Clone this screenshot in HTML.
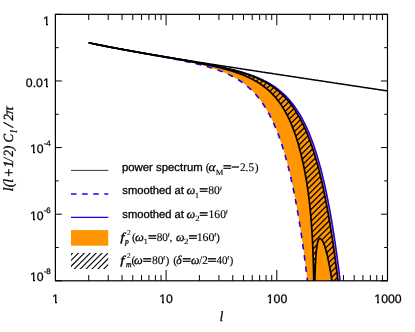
<!DOCTYPE html>
<html><head><meta charset="utf-8"><title>plot</title>
<style>
html,body{margin:0;padding:0;background:#fff;}
body{width:415px;height:332px;position:relative;overflow:hidden;font-family:"Liberation Sans",sans-serif;color:#000;text-rendering:geometricPrecision;}
.t{position:absolute;white-space:nowrap;font-size:12.3px;line-height:12px;-webkit-text-stroke:0.25px #000;}
.w{position:absolute;background:#fff;}
.yl{text-align:right;width:40px;margin-left:0.3px}
.xl{text-align:center;width:40px;}
.lg{position:absolute;white-space:nowrap;font-size:11.3px;line-height:14px;left:122px;}
.m{font-family:"Liberation Serif",serif;font-style:italic;font-size:13px;}
.r{font-family:"Liberation Serif",serif;font-style:italic;font-size:13px;}
.u{font-family:"Liberation Serif",serif;font-style:normal;}
sup,sub{font-size:8px;line-height:0;}
.sup{font-size:8px;position:relative;top:-7px;}
.sub{font-size:8px;position:relative;top:3px;}
</style></head><body><div id="wrap" style="position:absolute;left:0;top:0;width:415px;height:332px;opacity:0.999;will-change:opacity;">
<svg width="415" height="332" viewBox="0 0 415 332" style="position:absolute;left:0;top:0">
<defs><clipPath id="plot"><rect x="55.40" y="14.35" width="332.10" height="266.45"/></clipPath>
<clipPath id="hreg"><path d="M88.72,42.79 L89.88,43.03 L91.03,43.27 L92.18,43.51 L93.34,43.75 L94.49,43.99 L95.65,44.22 L96.80,44.46 L97.95,44.69 L99.11,44.92 L100.26,45.16 L101.41,45.39 L102.57,45.62 L103.72,45.84 L104.87,46.07 L106.03,46.30 L107.18,46.52 L108.33,46.75 L109.49,46.97 L110.64,47.19 L111.80,47.41 L112.95,47.63 L114.10,47.85 L115.26,48.07 L116.41,48.29 L117.56,48.51 L118.72,48.72 L119.87,48.94 L121.02,49.15 L122.18,49.37 L123.33,49.58 L124.48,49.79 L125.64,50.00 L126.79,50.21 L127.95,50.42 L129.10,50.63 L130.25,50.84 L131.41,51.05 L132.56,51.26 L133.71,51.46 L134.87,51.67 L136.02,51.87 L137.17,52.08 L138.33,52.28 L139.48,52.49 L140.63,52.69 L141.79,52.90 L142.94,53.10 L144.10,53.30 L145.25,53.50 L146.40,53.70 L147.56,53.90 L148.71,54.10 L149.86,54.30 L151.02,54.50 L152.17,54.70 L153.32,54.90 L154.48,55.10 L155.63,55.30 L156.78,55.50 L157.94,55.70 L159.09,55.90 L160.25,56.09 L161.40,56.29 L162.55,56.49 L163.71,56.69 L164.86,56.89 L166.01,57.08 L167.17,57.28 L168.32,57.48 L169.47,57.68 L170.63,57.87 L171.78,58.07 L172.94,58.27 L174.09,58.47 L175.24,58.66 L176.40,58.86 L177.55,59.06 L178.70,59.26 L179.86,59.46 L181.01,59.66 L182.16,59.86 L183.32,60.06 L184.47,60.26 L185.62,60.46 L186.78,60.66 L187.93,60.86 L189.09,61.07 L190.24,61.27 L191.39,61.48 L192.55,61.68 L193.70,61.89 L194.85,62.09 L196.01,62.30 L197.16,62.51 L198.31,62.72 L199.47,62.93 L200.62,63.14 L201.77,63.36 L202.93,63.57 L204.08,63.79 L205.24,64.01 L206.39,64.23 L207.54,64.45 L208.70,64.67 L209.85,64.90 L211.00,65.13 L212.16,65.36 L213.31,65.59 L214.46,65.82 L215.62,66.06 L216.77,66.30 L217.92,66.54 L219.08,66.78 L220.23,67.03 L221.39,67.28 L222.54,67.54 L223.69,67.80 L224.85,68.06 L226.00,68.33 L227.15,68.60 L228.31,68.87 L229.46,69.15 L230.61,69.44 L231.77,69.73 L232.92,70.02 L234.07,70.32 L235.23,70.63 L236.38,70.94 L237.54,71.26 L238.69,71.59 L239.84,71.92 L241.00,72.26 L242.15,72.61 L243.30,72.97 L244.46,73.33 L245.61,73.71 L246.76,74.09 L247.92,74.49 L249.07,74.89 L250.22,75.31 L251.38,75.74 L252.53,76.18 L253.69,76.64 L254.84,77.10 L255.99,77.58 L257.15,78.08 L258.30,78.59 L259.45,79.12 L260.61,79.67 L261.76,80.23 L262.91,80.82 L264.07,81.42 L265.22,82.05 L266.37,82.69 L267.53,83.36 L268.68,84.06 L269.84,84.78 L270.99,85.52 L272.14,86.30 L273.30,87.10 L274.45,87.93 L275.60,88.80 L276.76,89.70 L277.91,90.64 L279.06,91.61 L280.22,92.62 L281.37,93.68 L282.52,94.77 L283.68,95.92 L284.83,97.11 L285.99,98.35 L287.14,99.64 L288.29,100.98 L289.45,102.39 L290.60,103.85 L291.75,105.38 L292.91,106.98 L294.06,108.64 L295.21,110.38 L296.37,112.19 L297.52,114.09 L298.67,116.07 L299.83,118.14 L300.98,120.30 L302.14,122.56 L303.29,124.92 L304.44,127.39 L305.60,129.97 L306.75,132.67 L307.90,135.49 L309.06,138.45 L310.21,141.54 L311.36,144.77 L312.52,148.16 L313.67,151.70 L314.82,155.41 L315.98,159.29 L317.13,163.36 L318.29,167.61 L319.44,172.07 L320.59,176.73 L321.75,181.62 L322.90,186.74 L324.05,192.10 L325.21,197.72 L326.36,203.60 L327.51,209.77 L328.67,216.23 L329.82,223.00 L330.97,230.09 L332.13,237.52 L333.28,245.31 L334.44,253.48 L335.59,262.04 L336.74,271.00 L337.90,280.41 L339.05,290.26 L340.20,300.59 L341.36,311.42 L342.51,322.78 L343.66,334.68 L344.82,347.16 L345.97,360.25 L347.12,373.97 L348.28,388.35 L349.43,403.44 L350.59,414.02 L351.74,414.02 L352.89,414.02 L354.05,414.02 L355.20,414.02 L356.35,414.02 L357.51,414.02 L358.66,414.02 L359.81,414.02 L360.97,414.02 L362.12,414.02 L363.27,414.02 L364.43,414.02 L365.58,414.02 L366.74,414.02 L367.89,414.02 L369.04,414.02 L370.20,414.02 L371.35,414.02 L372.50,414.02 L373.66,414.02 L374.81,414.02 L375.96,414.02 L377.12,414.02 L378.27,414.02 L379.42,414.02 L380.58,414.02 L381.73,414.02 L382.89,414.02 L384.04,414.02 L385.19,414.02 L386.35,414.02 L387.50,414.02 L387.50,414.02 L387.17,414.02 L386.84,414.02 L386.50,414.02 L386.17,414.02 L385.84,414.02 L385.51,414.02 L385.17,414.02 L384.84,414.02 L384.51,414.02 L384.18,414.02 L383.84,414.02 L383.51,414.02 L383.18,414.02 L382.85,414.02 L382.51,414.02 L382.18,414.02 L381.85,414.02 L381.52,414.02 L381.19,414.02 L380.85,414.02 L380.52,414.02 L380.19,414.02 L379.86,414.02 L379.52,414.02 L379.19,414.02 L378.86,414.02 L378.53,414.02 L378.19,414.02 L377.86,414.02 L377.53,414.02 L377.20,414.02 L376.87,414.02 L376.53,414.02 L376.20,414.02 L375.87,414.02 L375.54,414.02 L375.20,414.02 L374.87,414.02 L374.54,414.02 L374.21,414.02 L373.87,414.02 L373.54,414.02 L373.21,414.02 L372.88,414.02 L372.54,414.02 L372.21,414.02 L371.88,414.02 L371.55,414.02 L371.22,414.02 L370.88,414.02 L370.55,414.02 L370.22,414.02 L369.89,414.02 L369.55,414.02 L369.22,414.02 L368.89,414.02 L368.56,414.02 L368.22,414.02 L367.89,414.02 L367.56,414.02 L367.23,414.02 L366.89,414.02 L366.56,414.02 L366.23,414.02 L365.90,414.02 L365.57,414.02 L365.23,414.02 L364.90,414.02 L364.57,414.02 L364.24,414.02 L363.90,414.02 L363.57,414.02 L363.24,414.02 L362.91,414.02 L362.57,414.02 L362.24,414.02 L361.91,414.02 L361.58,414.02 L361.24,414.02 L360.91,414.02 L360.58,414.02 L360.25,414.02 L359.92,414.02 L359.58,414.02 L359.25,414.02 L358.92,414.02 L358.59,414.02 L358.25,414.02 L357.92,414.02 L357.59,414.02 L357.26,414.02 L356.92,414.02 L356.59,414.02 L356.26,414.02 L355.93,414.02 L355.60,414.02 L355.26,414.02 L354.93,414.02 L354.60,414.02 L354.27,414.02 L353.93,414.02 L353.60,414.02 L353.27,414.02 L352.94,414.02 L352.60,414.02 L352.27,414.02 L351.94,414.02 L351.61,414.02 L351.27,414.02 L350.94,414.02 L350.61,414.02 L350.28,414.02 L349.95,414.02 L349.61,414.02 L349.28,414.02 L348.95,414.02 L348.62,414.02 L348.28,414.02 L347.95,414.02 L347.62,414.02 L347.29,414.02 L346.95,414.02 L346.62,414.02 L346.29,414.02 L345.96,414.02 L345.62,410.59 L345.29,406.20 L344.96,401.89 L344.63,397.64 L344.30,393.47 L343.96,389.36 L343.63,385.31 L343.30,381.34 L342.97,377.43 L342.63,373.58 L342.30,369.80 L341.97,366.08 L341.64,362.43 L341.30,358.83 L340.97,355.30 L340.64,351.83 L340.31,348.42 L339.98,345.06 L339.64,341.77 L339.31,338.53 L338.98,335.35 L338.65,332.22 L338.31,329.16 L337.98,326.14 L337.65,323.19 L337.32,320.28 L336.98,317.43 L336.65,314.64 L336.32,311.90 L335.99,309.20 L335.65,306.57 L335.32,303.98 L334.99,301.44 L334.66,298.96 L334.33,296.52 L333.99,294.14 L333.66,291.80 L333.33,289.52 L333.00,287.28 L332.66,285.10 L332.33,282.96 L332.00,280.87 L331.67,278.74 L331.33,276.67 L331.00,274.65 L330.67,272.68 L330.34,270.76 L330.00,268.89 L329.67,267.07 L329.34,265.30 L329.01,263.59 L328.68,261.92 L328.34,260.31 L328.01,258.74 L327.68,257.23 L327.35,255.77 L327.01,254.36 L326.68,253.01 L326.35,251.71 L326.02,250.46 L325.68,249.27 L325.35,248.13 L325.02,247.05 L324.69,246.03 L324.35,245.06 L324.02,244.16 L323.69,243.32 L323.36,242.54 L323.03,241.83 L322.69,241.19 L322.36,240.63 L322.03,240.13 L321.70,239.72 L321.36,239.39 L321.03,239.15 L320.70,238.89 L320.37,238.67 L320.03,238.57 L319.70,238.59 L319.37,238.76 L319.04,239.08 L318.71,239.56 L318.37,240.24 L318.04,241.14 L317.71,242.29 L317.38,243.74 L317.04,245.55 L316.71,247.80 L316.38,250.61 L316.05,254.18 L315.71,258.80 L315.38,265.01 L315.05,273.94 L314.72,288.66 L314.38,326.23 L314.05,307.52 L313.72,279.25 L313.39,264.32 L313.06,253.87 L312.72,245.70 L312.39,238.92 L312.06,233.09 L311.73,227.96 L311.39,223.37 L311.06,219.19 L310.73,215.34 L310.40,211.76 L310.06,208.41 L309.73,205.26 L309.40,202.29 L309.07,199.46 L308.73,196.76 L308.40,194.19 L308.07,191.72 L307.74,189.35 L307.41,187.07 L307.07,184.88 L306.74,182.76 L306.41,180.70 L306.08,178.72 L305.74,176.79 L305.41,174.92 L305.08,173.11 L304.75,171.34 L304.41,169.63 L304.08,167.95 L303.75,166.32 L303.42,164.74 L303.08,163.19 L302.75,161.67 L302.42,160.20 L302.09,158.75 L301.76,157.34 L301.42,155.96 L301.09,154.61 L300.76,153.29 L300.43,152.00 L300.09,150.73 L299.76,149.48 L299.43,148.23 L299.10,147.01 L298.76,145.81 L298.43,144.64 L298.10,143.49 L297.77,142.36 L297.44,141.25 L297.10,140.17 L296.77,139.10 L296.44,138.06 L296.11,137.03 L295.77,136.02 L295.44,135.03 L295.11,134.06 L294.78,133.11 L294.44,132.17 L294.11,131.25 L293.78,130.34 L293.45,129.45 L293.11,128.58 L292.78,127.72 L292.45,126.88 L292.12,126.05 L291.79,125.23 L291.45,124.43 L291.12,123.64 L290.79,122.86 L290.46,122.09 L290.12,121.34 L289.79,120.60 L289.46,119.87 L289.13,119.16 L288.79,118.45 L288.46,117.76 L288.13,117.08 L287.80,116.40 L287.46,115.74 L287.13,115.09 L286.80,114.45 L286.47,113.82 L286.14,113.19 L285.80,112.58 L285.47,111.98 L285.14,111.38 L284.81,110.80 L284.47,110.22 L284.14,109.65 L283.81,109.09 L283.48,108.54 L283.14,108.00 L282.81,107.46 L282.48,106.93 L282.15,106.41 L281.82,105.90 L281.48,105.39 L281.15,104.89 L280.82,104.40 L280.49,103.92 L280.15,103.44 L279.82,102.97 L279.49,102.51 L279.16,102.05 L278.82,101.60 L278.49,101.15 L278.16,100.71 L277.83,100.28 L277.49,99.86 L277.16,99.44 L276.83,99.03 L276.50,98.63 L276.17,98.23 L275.83,97.83 L275.50,97.44 L275.17,97.06 L274.84,96.68 L274.50,96.30 L274.17,95.93 L273.84,95.57 L273.51,95.21 L273.17,94.85 L272.84,94.50 L272.51,94.16 L272.18,93.81 L271.84,93.48 L271.51,93.14 L271.18,92.81 L270.85,92.49 L270.52,92.16 L270.18,91.85 L269.85,91.53 L269.52,91.22 L269.19,90.92 L268.85,90.62 L268.52,90.32 L268.19,90.03 L267.86,89.73 L267.52,89.45 L267.19,89.16 L266.86,88.88 L266.53,88.60 L266.19,88.33 L265.86,88.06 L265.53,87.79 L265.20,87.53 L264.87,87.27 L264.53,87.01 L264.20,86.75 L263.87,86.50 L263.54,86.25 L263.20,86.00 L262.87,85.76 L262.54,85.52 L262.21,85.28 L261.87,85.04 L261.54,84.81 L261.21,84.58 L260.88,84.35 L260.55,84.12 L260.21,83.90 L259.88,83.68 L259.55,83.46 L259.22,83.24 L258.88,83.03 L258.55,82.82 L258.22,82.61 L257.89,82.40 L257.55,82.20 L257.22,82.00 L256.89,81.80 L256.56,81.60 L256.22,81.40 L255.89,81.21 L255.56,81.02 L255.23,80.83 L254.90,80.64 L254.56,80.45 L254.23,80.27 L253.90,80.08 L253.57,79.90 L253.23,79.72 L252.90,79.55 L252.57,79.37 L252.24,79.20 L251.90,79.03 L251.57,78.86 L251.24,78.69 L250.91,78.52 L250.57,78.36 L250.24,78.19 L249.91,78.03 L249.58,77.87 L249.25,77.71 L248.91,77.55 L248.58,77.40 L248.25,77.24 L247.92,77.09 L247.58,76.94 L247.25,76.79 L246.92,76.64 L246.59,76.49 L246.25,76.35 L245.92,76.20 L245.59,76.06 L245.26,75.92 L244.93,75.78 L244.59,75.64 L244.26,75.50 L243.93,75.36 L243.60,75.22 L243.26,75.09 L242.93,74.96 L242.60,74.82 L242.27,74.69 L241.93,74.56 L241.60,74.43 L241.27,74.30 L240.94,74.18 L240.60,74.05 L240.27,73.93 L239.94,73.80 L239.61,73.68 L239.28,73.56 L238.94,73.44 L238.61,73.32 L238.28,73.20 L237.95,73.08 L237.61,72.96 L237.28,72.85 L236.95,72.73 L236.62,72.62 L236.28,72.50 L235.95,72.39 L235.62,72.28 L235.29,72.17 L234.95,72.06 L234.62,71.95 L234.29,71.84 L233.96,71.73 L233.63,71.62 L233.29,71.52 L232.96,71.41 L232.63,71.31 L232.30,71.20 L231.96,71.10 L231.63,71.00 L231.30,70.89 L230.97,70.79 L230.63,70.69 L230.30,70.59 L229.97,70.49 L229.64,70.40 L229.30,70.30 L228.97,70.20 L228.64,70.10 L228.31,70.01 L227.98,69.91 L227.64,69.82 L227.31,69.72 L226.98,69.63 L226.65,69.54 L226.31,69.44 L225.98,69.35 L225.65,69.26 L225.32,69.17 L224.98,69.08 L224.65,68.99 L224.32,68.90 L223.99,68.81 L223.66,68.72 L223.32,68.64 L222.99,68.55 L222.66,68.46 L222.33,68.37 L221.99,68.29 L221.66,68.20 L221.33,68.12 L221.00,68.03 L220.66,67.95 L220.33,67.87 L220.00,67.78 L219.67,67.70 L219.33,67.62 L219.00,67.54 L218.67,67.46 L218.34,67.37 L218.01,67.29 L217.67,67.21 L217.34,67.13 L217.01,67.05 L216.68,66.97 L216.34,66.90 L216.01,66.82 L215.68,66.74 L215.35,66.66 L215.01,66.58 L214.68,66.51 L214.35,66.43 L214.02,66.35 L213.68,66.28 L213.35,66.20 L213.02,66.13 L212.69,66.05 L212.36,65.98 L212.02,65.90 L211.69,65.83 L211.36,65.75 L211.03,65.68 L210.69,65.61 L210.36,65.53 L210.03,65.46 L209.70,65.39 L209.36,65.32 L209.03,65.24 L208.70,65.17 L208.37,65.10 L208.04,65.03 L207.70,64.96 L207.37,64.89 L207.04,64.82 L206.71,64.75 L206.37,64.68 L206.04,64.61 L205.71,64.54 L205.38,64.47 L205.04,64.40 L204.71,64.33 L204.38,64.26 L204.05,64.19 L203.71,64.13 L203.38,64.06 L203.05,63.99 L202.72,63.92 L202.39,63.86 L202.05,63.79 L201.72,63.72 L201.39,63.65 L201.06,63.59 L200.72,63.52 L200.39,63.46 L200.06,63.39 L199.73,63.32 L199.39,63.26 L199.06,63.19 L198.73,63.13 L198.40,63.06 L198.06,63.00 L197.73,62.93 L197.40,62.87 L197.07,62.80 L196.74,62.74 L196.40,62.67 L196.07,62.61 L195.74,62.54 L195.41,62.48 L195.07,62.42 L194.74,62.35 L194.41,62.29 L194.08,62.23 L193.74,62.16 L193.41,62.10 L193.08,62.04 L192.75,61.97 L192.41,61.91 L192.08,61.85 L191.75,61.79 L191.42,61.72 L191.09,61.66 L190.75,61.60 L190.42,61.54 L190.09,61.47 L189.76,61.41 L189.42,61.35 L189.09,61.29 L188.76,61.23 L188.43,61.17 L188.09,61.10 L187.76,61.04 L187.43,60.98 L187.10,60.92 L186.77,60.86 L186.43,60.80 L186.10,60.74 L185.77,60.68 L185.44,60.62 L185.10,60.56 L184.77,60.50 L184.44,60.44 L184.11,60.37 L183.77,60.31 L183.44,60.25 L183.11,60.19 L182.78,60.13 L182.44,60.07 L182.11,60.01 L181.78,59.95 L181.45,59.89 L181.12,59.83 L180.78,59.78 L180.45,59.72 L180.12,59.66 L179.79,59.60 L179.45,59.54 L179.12,59.48 L178.79,59.42 L178.46,59.36 L178.12,59.30 L177.79,59.24 L177.46,59.18 L177.13,59.12 L176.79,59.06 L176.46,59.00 L176.13,58.95 L175.80,58.89 L175.47,58.83 L175.13,58.77 L174.80,58.71 L174.47,58.65 L174.14,58.59 L173.80,58.53 L173.47,58.48 L173.14,58.42 L172.81,58.36 L172.47,58.30 L172.14,58.24 L171.81,58.18 L171.48,58.12 L171.14,58.07 L170.81,58.01 L170.48,57.95 L170.15,57.89 L169.82,57.83 L169.48,57.77 L169.15,57.72 L168.82,57.66 L168.49,57.60 L168.15,57.54 L167.82,57.48 L167.49,57.42 L167.16,57.37 L166.82,57.31 L166.49,57.25 L166.16,57.19 L165.83,57.13 L165.50,57.08 L165.16,57.02 L164.83,56.96 L164.50,56.90 L164.17,56.84 L163.83,56.79 L163.50,56.73 L163.17,56.67 L162.84,56.61 L162.50,56.55 L162.17,56.50 L161.84,56.44 L161.51,56.38 L161.17,56.32 L160.84,56.26 L160.51,56.21 L160.18,56.15 L159.85,56.09 L159.51,56.03 L159.18,55.97 L158.85,55.92 L158.52,55.86 L158.18,55.80 L157.85,55.74 L157.52,55.69 L157.19,55.63 L156.85,55.57 L156.52,55.51 L156.19,55.45 L155.86,55.40 L155.52,55.34 L155.19,55.28 L154.86,55.22 L154.53,55.16 L154.20,55.11 L153.86,55.05 L153.53,54.99 L153.20,54.93 L152.87,54.87 L152.53,54.81 L152.20,54.76 L151.87,54.70 L151.54,54.64 L151.20,54.58 L150.87,54.52 L150.54,54.47 L150.21,54.41 L149.88,54.35 L149.54,54.29 L149.21,54.23 L148.88,54.17 L148.55,54.12 L148.21,54.06 L147.88,54.00 L147.55,53.94 L147.22,53.88 L146.88,53.82 L146.55,53.77 L146.22,53.71 L145.89,53.65 L145.55,53.59 L145.22,53.53 L144.89,53.47 L144.56,53.42 L144.23,53.36 L143.89,53.30 L143.56,53.24 L143.23,53.18 L142.90,53.12 L142.56,53.06 L142.23,53.00 L141.90,52.95 L141.57,52.89 L141.23,52.83 L140.90,52.77 L140.57,52.71 L140.24,52.65 L139.90,52.59 L139.57,52.53 L139.24,52.47 L138.91,52.41 L138.58,52.36 L138.24,52.30 L137.91,52.24 L137.58,52.18 L137.25,52.12 L136.91,52.06 L136.58,52.00 L136.25,51.94 L135.92,51.88 L135.58,51.82 L135.25,51.76 L134.92,51.70 L134.59,51.64 L134.25,51.58 L133.92,51.52 L133.59,51.46 L133.26,51.40 L132.93,51.34 L132.59,51.28 L132.26,51.22 L131.93,51.16 L131.60,51.10 L131.26,51.04 L130.93,50.98 L130.60,50.92 L130.27,50.86 L129.93,50.80 L129.60,50.74 L129.27,50.68 L128.94,50.62 L128.61,50.56 L128.27,50.50 L127.94,50.44 L127.61,50.38 L127.28,50.32 L126.94,50.26 L126.61,50.20 L126.28,50.14 L125.95,50.07 L125.61,50.01 L125.28,49.95 L124.95,49.89 L124.62,49.83 L124.28,49.77 L123.95,49.71 L123.62,49.65 L123.29,49.59 L122.96,49.52 L122.62,49.46 L122.29,49.40 L121.96,49.34 L121.63,49.28 L121.29,49.22 L120.96,49.15 L120.63,49.09 L120.30,49.03 L119.96,48.97 L119.63,48.91 L119.30,48.84 L118.97,48.78 L118.63,48.72 L118.30,48.66 L117.97,48.59 L117.64,48.53 L117.31,48.47 L116.97,48.41 L116.64,48.34 L116.31,48.28 L115.98,48.22 L115.64,48.16 L115.31,48.09 L114.98,48.03 L114.65,47.97 L114.31,47.90 L113.98,47.84 L113.65,47.78 L113.32,47.71 L112.99,47.65 L112.65,47.59 L112.32,47.52 L111.99,47.46 L111.66,47.40 L111.32,47.33 L110.99,47.27 L110.66,47.20 L110.33,47.14 L109.99,47.08 L109.66,47.01 L109.33,46.95 L109.00,46.88 L108.66,46.82 L108.33,46.75 L108.00,46.69 L107.67,46.63 L107.34,46.56 L107.00,46.50 L106.67,46.43 L106.34,46.37 L106.01,46.30 L105.67,46.24 L105.34,46.17 L105.01,46.11 L104.68,46.04 L104.34,45.97 L104.01,45.91 L103.68,45.84 L103.35,45.78 L103.01,45.71 L102.68,45.65 L102.35,45.58 L102.02,45.51 L101.69,45.45 L101.35,45.38 L101.02,45.31 L100.69,45.25 L100.36,45.18 L100.02,45.11 L99.69,45.05 L99.36,44.98 L99.03,44.91 L98.69,44.85 L98.36,44.78 L98.03,44.71 L97.70,44.65 L97.36,44.58 L97.03,44.51 L96.70,44.44 L96.37,44.38 L96.04,44.31 L95.70,44.24 L95.37,44.17 L95.04,44.10 L94.71,44.04 L94.37,43.97 L94.04,43.90 L93.71,43.83 L93.38,43.76 L93.04,43.69 L92.71,43.62 L92.38,43.55 L92.05,43.49 L91.72,43.42 L91.38,43.35 L91.05,43.28 L90.72,43.21 L90.39,43.14 L90.05,43.07 L89.72,43.00 L89.39,42.93 L89.06,42.86 L88.72,42.79Z"/></clipPath>
<clipPath id="lbox"><rect x="71" y="253.1" width="37.2" height="15.8"/></clipPath></defs>
<line x1="88.72" y1="280.80" x2="88.72" y2="275.10" stroke="#000" stroke-width="1.00"/>
<line x1="88.72" y1="14.35" x2="88.72" y2="20.05" stroke="#000" stroke-width="1.00"/>
<line x1="108.22" y1="280.80" x2="108.22" y2="275.10" stroke="#000" stroke-width="1.00"/>
<line x1="108.22" y1="14.35" x2="108.22" y2="20.05" stroke="#000" stroke-width="1.00"/>
<line x1="122.05" y1="280.80" x2="122.05" y2="275.10" stroke="#000" stroke-width="1.00"/>
<line x1="122.05" y1="14.35" x2="122.05" y2="20.05" stroke="#000" stroke-width="1.00"/>
<line x1="132.78" y1="280.80" x2="132.78" y2="275.10" stroke="#000" stroke-width="1.00"/>
<line x1="132.78" y1="14.35" x2="132.78" y2="20.05" stroke="#000" stroke-width="1.00"/>
<line x1="141.54" y1="280.80" x2="141.54" y2="275.10" stroke="#000" stroke-width="1.00"/>
<line x1="141.54" y1="14.35" x2="141.54" y2="20.05" stroke="#000" stroke-width="1.00"/>
<line x1="148.95" y1="280.80" x2="148.95" y2="275.10" stroke="#000" stroke-width="1.00"/>
<line x1="148.95" y1="14.35" x2="148.95" y2="20.05" stroke="#000" stroke-width="1.00"/>
<line x1="155.37" y1="280.80" x2="155.37" y2="275.10" stroke="#000" stroke-width="1.00"/>
<line x1="155.37" y1="14.35" x2="155.37" y2="20.05" stroke="#000" stroke-width="1.00"/>
<line x1="161.03" y1="280.80" x2="161.03" y2="275.10" stroke="#000" stroke-width="1.00"/>
<line x1="161.03" y1="14.35" x2="161.03" y2="20.05" stroke="#000" stroke-width="1.00"/>
<line x1="166.10" y1="280.80" x2="166.10" y2="269.90" stroke="#000" stroke-width="1.00"/>
<line x1="166.10" y1="14.35" x2="166.10" y2="25.25" stroke="#000" stroke-width="1.00"/>
<line x1="199.42" y1="280.80" x2="199.42" y2="275.10" stroke="#000" stroke-width="1.00"/>
<line x1="199.42" y1="14.35" x2="199.42" y2="20.05" stroke="#000" stroke-width="1.00"/>
<line x1="218.92" y1="280.80" x2="218.92" y2="275.10" stroke="#000" stroke-width="1.00"/>
<line x1="218.92" y1="14.35" x2="218.92" y2="20.05" stroke="#000" stroke-width="1.00"/>
<line x1="232.75" y1="280.80" x2="232.75" y2="275.10" stroke="#000" stroke-width="1.00"/>
<line x1="232.75" y1="14.35" x2="232.75" y2="20.05" stroke="#000" stroke-width="1.00"/>
<line x1="243.48" y1="280.80" x2="243.48" y2="275.10" stroke="#000" stroke-width="1.00"/>
<line x1="243.48" y1="14.35" x2="243.48" y2="20.05" stroke="#000" stroke-width="1.00"/>
<line x1="252.24" y1="280.80" x2="252.24" y2="275.10" stroke="#000" stroke-width="1.00"/>
<line x1="252.24" y1="14.35" x2="252.24" y2="20.05" stroke="#000" stroke-width="1.00"/>
<line x1="259.65" y1="280.80" x2="259.65" y2="275.10" stroke="#000" stroke-width="1.00"/>
<line x1="259.65" y1="14.35" x2="259.65" y2="20.05" stroke="#000" stroke-width="1.00"/>
<line x1="266.07" y1="280.80" x2="266.07" y2="275.10" stroke="#000" stroke-width="1.00"/>
<line x1="266.07" y1="14.35" x2="266.07" y2="20.05" stroke="#000" stroke-width="1.00"/>
<line x1="271.73" y1="280.80" x2="271.73" y2="275.10" stroke="#000" stroke-width="1.00"/>
<line x1="271.73" y1="14.35" x2="271.73" y2="20.05" stroke="#000" stroke-width="1.00"/>
<line x1="276.80" y1="280.80" x2="276.80" y2="269.90" stroke="#000" stroke-width="1.00"/>
<line x1="276.80" y1="14.35" x2="276.80" y2="25.25" stroke="#000" stroke-width="1.00"/>
<line x1="310.12" y1="280.80" x2="310.12" y2="275.10" stroke="#000" stroke-width="1.00"/>
<line x1="310.12" y1="14.35" x2="310.12" y2="20.05" stroke="#000" stroke-width="1.00"/>
<line x1="329.62" y1="280.80" x2="329.62" y2="275.10" stroke="#000" stroke-width="1.00"/>
<line x1="329.62" y1="14.35" x2="329.62" y2="20.05" stroke="#000" stroke-width="1.00"/>
<line x1="343.45" y1="280.80" x2="343.45" y2="275.10" stroke="#000" stroke-width="1.00"/>
<line x1="343.45" y1="14.35" x2="343.45" y2="20.05" stroke="#000" stroke-width="1.00"/>
<line x1="354.18" y1="280.80" x2="354.18" y2="275.10" stroke="#000" stroke-width="1.00"/>
<line x1="354.18" y1="14.35" x2="354.18" y2="20.05" stroke="#000" stroke-width="1.00"/>
<line x1="362.94" y1="280.80" x2="362.94" y2="275.10" stroke="#000" stroke-width="1.00"/>
<line x1="362.94" y1="14.35" x2="362.94" y2="20.05" stroke="#000" stroke-width="1.00"/>
<line x1="370.35" y1="280.80" x2="370.35" y2="275.10" stroke="#000" stroke-width="1.00"/>
<line x1="370.35" y1="14.35" x2="370.35" y2="20.05" stroke="#000" stroke-width="1.00"/>
<line x1="376.77" y1="280.80" x2="376.77" y2="275.10" stroke="#000" stroke-width="1.00"/>
<line x1="376.77" y1="14.35" x2="376.77" y2="20.05" stroke="#000" stroke-width="1.00"/>
<line x1="382.43" y1="280.80" x2="382.43" y2="275.10" stroke="#000" stroke-width="1.00"/>
<line x1="382.43" y1="14.35" x2="382.43" y2="20.05" stroke="#000" stroke-width="1.00"/>
<line x1="55.40" y1="14.35" x2="61.90" y2="14.35" stroke="#000" stroke-width="1.00"/>
<line x1="387.50" y1="14.35" x2="381.00" y2="14.35" stroke="#000" stroke-width="1.00"/>
<line x1="55.40" y1="47.66" x2="58.70" y2="47.66" stroke="#000" stroke-width="1.00"/>
<line x1="387.50" y1="47.66" x2="384.20" y2="47.66" stroke="#000" stroke-width="1.00"/>
<line x1="55.40" y1="80.96" x2="61.90" y2="80.96" stroke="#000" stroke-width="1.00"/>
<line x1="387.50" y1="80.96" x2="381.00" y2="80.96" stroke="#000" stroke-width="1.00"/>
<line x1="55.40" y1="114.27" x2="58.70" y2="114.27" stroke="#000" stroke-width="1.00"/>
<line x1="387.50" y1="114.27" x2="384.20" y2="114.27" stroke="#000" stroke-width="1.00"/>
<line x1="55.40" y1="147.57" x2="61.90" y2="147.57" stroke="#000" stroke-width="1.00"/>
<line x1="387.50" y1="147.57" x2="381.00" y2="147.57" stroke="#000" stroke-width="1.00"/>
<line x1="55.40" y1="180.88" x2="58.70" y2="180.88" stroke="#000" stroke-width="1.00"/>
<line x1="387.50" y1="180.88" x2="384.20" y2="180.88" stroke="#000" stroke-width="1.00"/>
<line x1="55.40" y1="214.19" x2="61.90" y2="214.19" stroke="#000" stroke-width="1.00"/>
<line x1="387.50" y1="214.19" x2="381.00" y2="214.19" stroke="#000" stroke-width="1.00"/>
<line x1="55.40" y1="247.49" x2="58.70" y2="247.49" stroke="#000" stroke-width="1.00"/>
<line x1="387.50" y1="247.49" x2="384.20" y2="247.49" stroke="#000" stroke-width="1.00"/>
<line x1="55.40" y1="280.80" x2="61.90" y2="280.80" stroke="#000" stroke-width="1.00"/>
<line x1="387.50" y1="280.80" x2="381.00" y2="280.80" stroke="#000" stroke-width="1.00"/>
<g clip-path="url(#plot)">
<path d="M88.72,42.79 L89.88,43.03 L91.03,43.27 L92.18,43.51 L93.34,43.75 L94.49,43.99 L95.65,44.22 L96.80,44.46 L97.95,44.69 L99.11,44.92 L100.26,45.16 L101.41,45.39 L102.57,45.62 L103.72,45.84 L104.87,46.07 L106.03,46.30 L107.18,46.52 L108.33,46.75 L109.49,46.97 L110.64,47.19 L111.80,47.41 L112.95,47.63 L114.10,47.85 L115.26,48.07 L116.41,48.29 L117.56,48.51 L118.72,48.72 L119.87,48.94 L121.02,49.15 L122.18,49.36 L123.33,49.58 L124.48,49.79 L125.64,50.00 L126.79,50.21 L127.95,50.42 L129.10,50.63 L130.25,50.84 L131.41,51.05 L132.56,51.25 L133.71,51.46 L134.87,51.67 L136.02,51.87 L137.17,52.08 L138.33,52.28 L139.48,52.48 L140.63,52.69 L141.79,52.89 L142.94,53.09 L144.10,53.29 L145.25,53.50 L146.40,53.70 L147.56,53.90 L148.71,54.10 L149.86,54.30 L151.02,54.50 L152.17,54.70 L153.32,54.90 L154.48,55.09 L155.63,55.29 L156.78,55.49 L157.94,55.69 L159.09,55.89 L160.25,56.08 L161.40,56.28 L162.55,56.48 L163.71,56.68 L164.86,56.87 L166.01,57.07 L167.17,57.27 L168.32,57.46 L169.47,57.66 L170.63,57.86 L171.78,58.05 L172.94,58.25 L174.09,58.45 L175.24,58.64 L176.40,58.84 L177.55,59.04 L178.70,59.24 L179.86,59.43 L181.01,59.63 L182.16,59.83 L183.32,60.03 L184.47,60.23 L185.62,60.43 L186.78,60.63 L187.93,60.83 L189.09,61.03 L190.24,61.23 L191.39,61.44 L192.55,61.64 L193.70,61.84 L194.85,62.05 L196.01,62.25 L197.16,62.46 L198.31,62.67 L199.47,62.88 L200.62,63.09 L201.77,63.30 L202.93,63.51 L204.08,63.72 L205.24,63.94 L206.39,64.15 L207.54,64.37 L208.70,64.59 L209.85,64.81 L211.00,65.04 L212.16,65.26 L213.31,65.49 L214.46,65.72 L215.62,65.95 L216.77,66.18 L217.92,66.42 L219.08,66.66 L220.23,66.90 L221.39,67.15 L222.54,67.39 L223.69,67.65 L224.85,67.90 L226.00,68.16 L227.15,68.42 L228.31,68.69 L229.46,68.96 L230.61,69.23 L231.77,69.51 L232.92,69.80 L234.07,70.09 L235.23,70.38 L236.38,70.68 L237.54,70.99 L238.69,71.30 L239.84,71.62 L241.00,71.95 L242.15,72.28 L243.30,72.62 L244.46,72.97 L245.61,73.33 L246.76,73.70 L247.92,74.07 L249.07,74.46 L250.22,74.85 L251.38,75.26 L252.53,75.68 L253.69,76.11 L254.84,76.55 L255.99,77.00 L257.15,77.47 L258.30,77.95 L259.45,78.45 L260.61,78.97 L261.76,79.50 L262.91,80.04 L264.07,80.61 L265.22,81.19 L266.37,81.80 L267.53,82.42 L268.68,83.07 L269.84,83.74 L270.99,84.44 L272.14,85.16 L273.30,85.91 L274.45,86.68 L275.60,87.49 L276.76,88.32 L277.91,89.19 L279.06,90.09 L280.22,91.03 L281.37,92.01 L282.52,93.02 L283.68,94.08 L284.83,95.18 L285.99,96.32 L287.14,97.51 L288.29,98.76 L289.45,100.05 L290.60,101.40 L291.75,102.81 L292.91,104.28 L294.06,105.81 L295.21,107.41 L296.37,109.08 L297.52,110.82 L298.67,112.64 L299.83,114.54 L300.98,116.52 L302.14,118.60 L303.29,120.76 L304.44,123.03 L305.60,125.39 L306.75,127.87 L307.90,130.46 L309.06,133.16 L310.21,136.00 L311.36,138.96 L312.52,142.06 L313.67,145.30 L314.82,148.69 L315.98,152.25 L317.13,155.96 L318.29,159.86 L319.44,163.93 L320.59,168.20 L321.75,172.66 L322.90,177.34 L324.05,182.24 L325.21,187.38 L326.36,192.75 L327.51,198.38 L328.67,204.28 L329.82,210.46 L330.97,216.94 L332.13,223.73 L333.28,230.84 L334.44,238.29 L335.59,246.10 L336.74,254.29 L337.90,262.87 L339.05,271.86 L340.20,281.29 L341.36,291.17 L342.51,301.53 L343.66,312.39 L344.82,323.77 L345.97,335.71 L347.12,348.22 L348.28,361.34 L349.43,375.10 L350.59,389.53 L351.74,404.65 L352.89,414.02 L354.05,414.02 L355.20,414.02 L356.35,414.02 L357.51,414.02 L358.66,414.02 L359.81,414.02 L360.97,414.02 L362.12,414.02 L363.27,414.02 L364.43,414.02 L365.58,414.02 L366.74,414.02 L367.89,414.02 L369.04,414.02 L370.20,414.02 L371.35,414.02 L372.50,414.02 L373.66,414.02 L374.81,414.02 L375.96,414.02 L377.12,414.02 L378.27,414.02 L379.42,414.02 L380.58,414.02 L381.73,414.02 L382.89,414.02 L384.04,414.02 L385.19,414.02 L386.35,414.02 L387.50,414.02 L387.50,414.02 L386.35,414.02 L385.19,414.02 L384.04,414.02 L382.89,414.02 L381.73,414.02 L380.58,414.02 L379.42,414.02 L378.27,414.02 L377.12,414.02 L375.96,414.02 L374.81,414.02 L373.66,414.02 L372.50,414.02 L371.35,414.02 L370.20,414.02 L369.04,414.02 L367.89,414.02 L366.74,414.02 L365.58,414.02 L364.43,414.02 L363.27,414.02 L362.12,414.02 L360.97,414.02 L359.81,414.02 L358.66,414.02 L357.51,414.02 L356.35,414.02 L355.20,414.02 L354.05,414.02 L352.89,414.02 L351.74,414.02 L350.59,414.02 L349.43,414.02 L348.28,414.02 L347.12,414.02 L345.97,414.02 L344.82,414.02 L343.66,414.02 L342.51,414.02 L341.36,414.02 L340.20,414.02 L339.05,414.02 L337.90,414.02 L336.74,414.02 L335.59,414.02 L334.44,414.02 L333.28,414.02 L332.13,414.02 L330.97,414.02 L329.82,414.02 L328.67,414.02 L327.51,414.02 L326.36,414.02 L325.21,414.02 L324.05,414.02 L322.90,414.02 L321.75,414.02 L320.59,414.02 L319.44,413.66 L318.29,397.89 L317.13,382.84 L315.98,368.49 L314.82,354.81 L313.67,341.76 L312.52,329.31 L311.36,317.44 L310.21,306.11 L309.06,295.31 L307.90,285.00 L306.75,275.18 L305.60,265.80 L304.44,256.85 L303.29,248.32 L302.14,240.17 L300.98,232.40 L299.83,224.99 L298.67,217.91 L297.52,211.16 L296.37,204.72 L295.21,198.57 L294.06,192.70 L292.91,187.10 L291.75,181.75 L290.60,176.64 L289.45,171.77 L288.29,167.11 L287.14,162.66 L285.99,158.42 L284.83,154.37 L283.68,150.49 L282.52,146.79 L281.37,143.26 L280.22,139.88 L279.06,136.65 L277.91,133.57 L276.76,130.62 L275.60,127.80 L274.45,125.11 L273.30,122.53 L272.14,120.07 L270.99,117.71 L269.84,115.46 L268.68,113.30 L267.53,111.24 L266.37,109.26 L265.22,107.37 L264.07,105.56 L262.91,103.82 L261.76,102.16 L260.61,100.57 L259.45,99.05 L258.30,97.58 L257.15,96.18 L255.99,94.84 L254.84,93.55 L253.69,92.31 L252.53,91.12 L251.38,89.98 L250.22,88.88 L249.07,87.83 L247.92,86.82 L246.76,85.84 L245.61,84.91 L244.46,84.01 L243.30,83.14 L242.15,82.31 L241.00,81.50 L239.84,80.73 L238.69,79.98 L237.54,79.26 L236.38,78.57 L235.23,77.90 L234.07,77.25 L232.92,76.63 L231.77,76.02 L230.61,75.44 L229.46,74.87 L228.31,74.32 L227.15,73.79 L226.00,73.28 L224.85,72.78 L223.69,72.30 L222.54,71.83 L221.39,71.37 L220.23,70.93 L219.08,70.50 L217.92,70.08 L216.77,69.67 L215.62,69.27 L214.46,68.89 L213.31,68.51 L212.16,68.14 L211.00,67.78 L209.85,67.43 L208.70,67.08 L207.54,66.75 L206.39,66.42 L205.24,66.10 L204.08,65.78 L202.93,65.47 L201.77,65.17 L200.62,64.87 L199.47,64.57 L198.31,64.29 L197.16,64.00 L196.01,63.72 L194.85,63.45 L193.70,63.18 L192.55,62.91 L191.39,62.65 L190.24,62.39 L189.09,62.13 L187.93,61.88 L186.78,61.63 L185.62,61.38 L184.47,61.14 L183.32,60.90 L182.16,60.66 L181.01,60.42 L179.86,60.19 L178.70,59.95 L177.55,59.72 L176.40,59.49 L175.24,59.26 L174.09,59.04 L172.94,58.81 L171.78,58.59 L170.63,58.37 L169.47,58.15 L168.32,57.93 L167.17,57.71 L166.01,57.49 L164.86,57.27 L163.71,57.06 L162.55,56.84 L161.40,56.63 L160.25,56.42 L159.09,56.20 L157.94,55.99 L156.78,55.78 L155.63,55.57 L154.48,55.36 L153.32,55.14 L152.17,54.93 L151.02,54.72 L149.86,54.51 L148.71,54.30 L147.56,54.09 L146.40,53.88 L145.25,53.67 L144.10,53.46 L142.94,53.25 L141.79,53.04 L140.63,52.83 L139.48,52.62 L138.33,52.41 L137.17,52.20 L136.02,51.99 L134.87,51.78 L133.71,51.57 L132.56,51.36 L131.41,51.15 L130.25,50.93 L129.10,50.72 L127.95,50.51 L126.79,50.29 L125.64,50.08 L124.48,49.86 L123.33,49.65 L122.18,49.43 L121.02,49.22 L119.87,49.00 L118.72,48.78 L117.56,48.56 L116.41,48.34 L115.26,48.12 L114.10,47.90 L112.95,47.68 L111.80,47.46 L110.64,47.23 L109.49,47.01 L108.33,46.78 L107.18,46.56 L106.03,46.33 L104.87,46.10 L103.72,45.88 L102.57,45.65 L101.41,45.41 L100.26,45.18 L99.11,44.95 L97.95,44.72 L96.80,44.48 L95.65,44.24 L94.49,44.01 L93.34,43.77 L92.18,43.53 L91.03,43.29 L89.88,43.05 L88.72,42.80Z" fill="#ff9500" stroke="none"/>
<path d="M88.72,42.79 L89.88,43.03 L91.03,43.27 L92.18,43.51 L93.34,43.75 L94.49,43.99 L95.65,44.22 L96.80,44.46 L97.95,44.69 L99.11,44.92 L100.26,45.16 L101.41,45.39 L102.57,45.62 L103.72,45.84 L104.87,46.07 L106.03,46.30 L107.18,46.52 L108.33,46.75 L109.49,46.97 L110.64,47.19 L111.80,47.41 L112.95,47.63 L114.10,47.85 L115.26,48.07 L116.41,48.29 L117.56,48.51 L118.72,48.72 L119.87,48.94 L121.02,49.15 L122.18,49.36 L123.33,49.58 L124.48,49.79 L125.64,50.00 L126.79,50.21 L127.95,50.42 L129.10,50.63 L130.25,50.84 L131.41,51.05 L132.56,51.25 L133.71,51.46 L134.87,51.67 L136.02,51.87 L137.17,52.08 L138.33,52.28 L139.48,52.48 L140.63,52.69 L141.79,52.89 L142.94,53.09 L144.10,53.29 L145.25,53.50 L146.40,53.70 L147.56,53.90 L148.71,54.10 L149.86,54.30 L151.02,54.50 L152.17,54.70 L153.32,54.90 L154.48,55.09 L155.63,55.29 L156.78,55.49 L157.94,55.69 L159.09,55.89 L160.25,56.08 L161.40,56.28 L162.55,56.48 L163.71,56.68 L164.86,56.87 L166.01,57.07 L167.17,57.27 L168.32,57.46 L169.47,57.66 L170.63,57.86 L171.78,58.05 L172.94,58.25 L174.09,58.45 L175.24,58.64 L176.40,58.84 L177.55,59.04 L178.70,59.24 L179.86,59.43 L181.01,59.63 L182.16,59.83 L183.32,60.03 L184.47,60.23 L185.62,60.43 L186.78,60.63 L187.93,60.83 L189.09,61.03 L190.24,61.23 L191.39,61.44 L192.55,61.64 L193.70,61.84 L194.85,62.05 L196.01,62.25 L197.16,62.46 L198.31,62.67 L199.47,62.88 L200.62,63.09 L201.77,63.30 L202.93,63.51 L204.08,63.72 L205.24,63.94 L206.39,64.15 L207.54,64.37 L208.70,64.59 L209.85,64.81 L211.00,65.04 L212.16,65.26 L213.31,65.49 L214.46,65.72 L215.62,65.95 L216.77,66.18 L217.92,66.42 L219.08,66.66 L220.23,66.90 L221.39,67.15 L222.54,67.39 L223.69,67.65 L224.85,67.90 L226.00,68.16 L227.15,68.42 L228.31,68.69 L229.46,68.96 L230.61,69.23 L231.77,69.51 L232.92,69.80 L234.07,70.09 L235.23,70.38 L236.38,70.68 L237.54,70.99 L238.69,71.30 L239.84,71.62 L241.00,71.95 L242.15,72.28 L243.30,72.62 L244.46,72.97 L245.61,73.33 L246.76,73.70 L247.92,74.07 L249.07,74.46 L250.22,74.85 L251.38,75.26 L252.53,75.68 L253.69,76.11 L254.84,76.55 L255.99,77.00 L257.15,77.47 L258.30,77.95 L259.45,78.45 L260.61,78.97 L261.76,79.50 L262.91,80.04 L264.07,80.61 L265.22,81.19 L266.37,81.80 L267.53,82.42 L268.68,83.07 L269.84,83.74 L270.99,84.44 L272.14,85.16 L273.30,85.91 L274.45,86.68 L275.60,87.49 L276.76,88.32 L277.91,89.19 L279.06,90.09 L280.22,91.03 L281.37,92.01 L282.52,93.02 L283.68,94.08 L284.83,95.18 L285.99,96.32 L287.14,97.51 L288.29,98.76 L289.45,100.05 L290.60,101.40 L291.75,102.81 L292.91,104.28 L294.06,105.81 L295.21,107.41 L296.37,109.08 L297.52,110.82 L298.67,112.64 L299.83,114.54 L300.98,116.52 L302.14,118.60 L303.29,120.76 L304.44,123.03 L305.60,125.39 L306.75,127.87 L307.90,130.46 L309.06,133.16 L310.21,136.00 L311.36,138.96 L312.52,142.06 L313.67,145.30 L314.82,148.69 L315.98,152.25 L317.13,155.96 L318.29,159.86 L319.44,163.93 L320.59,168.20 L321.75,172.66 L322.90,177.34 L324.05,182.24 L325.21,187.38 L326.36,192.75 L327.51,198.38 L328.67,204.28 L329.82,210.46 L330.97,216.94 L332.13,223.73 L333.28,230.84 L334.44,238.29 L335.59,246.10 L336.74,254.29 L337.90,262.87 L339.05,271.86 L340.20,281.29 L341.36,291.17 L342.51,301.53 L343.66,312.39 L344.82,323.77 L345.97,335.71 L347.12,348.22 L348.28,361.34 L349.43,375.10 L350.59,389.53 L351.74,404.65 L352.89,414.02 L354.05,414.02 L355.20,414.02 L356.35,414.02 L357.51,414.02 L358.66,414.02 L359.81,414.02 L360.97,414.02 L362.12,414.02 L363.27,414.02 L364.43,414.02 L365.58,414.02 L366.74,414.02 L367.89,414.02 L369.04,414.02 L370.20,414.02 L371.35,414.02 L372.50,414.02 L373.66,414.02 L374.81,414.02 L375.96,414.02 L377.12,414.02 L378.27,414.02 L379.42,414.02 L380.58,414.02 L381.73,414.02 L382.89,414.02 L384.04,414.02 L385.19,414.02 L386.35,414.02 L387.50,414.02" fill="none" stroke="#2000f0" stroke-width="1.6"/>
<path d="M88.72,42.80 L89.88,43.05 L91.03,43.29 L92.18,43.53 L93.34,43.77 L94.49,44.01 L95.65,44.24 L96.80,44.48 L97.95,44.72 L99.11,44.95 L100.26,45.18 L101.41,45.41 L102.57,45.65 L103.72,45.88 L104.87,46.10 L106.03,46.33 L107.18,46.56 L108.33,46.78 L109.49,47.01 L110.64,47.23 L111.80,47.46 L112.95,47.68 L114.10,47.90 L115.26,48.12 L116.41,48.34 L117.56,48.56 L118.72,48.78 L119.87,49.00 L121.02,49.22 L122.18,49.43 L123.33,49.65 L124.48,49.86 L125.64,50.08 L126.79,50.29 L127.95,50.51 L129.10,50.72 L130.25,50.93 L131.41,51.15 L132.56,51.36 L133.71,51.57 L134.87,51.78 L136.02,51.99 L137.17,52.20 L138.33,52.41 L139.48,52.62 L140.63,52.83 L141.79,53.04 L142.94,53.25 L144.10,53.46 L145.25,53.67 L146.40,53.88 L147.56,54.09 L148.71,54.30 L149.86,54.51 L151.02,54.72 L152.17,54.93 L153.32,55.14 L154.48,55.36 L155.63,55.57 L156.78,55.78 L157.94,55.99 L159.09,56.20 L160.25,56.42 L161.40,56.63 L162.55,56.84 L163.71,57.06 L164.86,57.27 L166.01,57.49 L167.17,57.71 L168.32,57.93 L169.47,58.15 L170.63,58.37 L171.78,58.59 L172.94,58.81 L174.09,59.04 L175.24,59.26 L176.40,59.49 L177.55,59.72 L178.70,59.95 L179.86,60.19 L181.01,60.42 L182.16,60.66 L183.32,60.90 L184.47,61.14 L185.62,61.38 L186.78,61.63 L187.93,61.88 L189.09,62.13 L190.24,62.39 L191.39,62.65 L192.55,62.91 L193.70,63.18 L194.85,63.45 L196.01,63.72 L197.16,64.00 L198.31,64.29 L199.47,64.57 L200.62,64.87 L201.77,65.17 L202.93,65.47 L204.08,65.78 L205.24,66.10 L206.39,66.42 L207.54,66.75 L208.70,67.08 L209.85,67.43 L211.00,67.78 L212.16,68.14 L213.31,68.51 L214.46,68.89 L215.62,69.27 L216.77,69.67 L217.92,70.08 L219.08,70.50 L220.23,70.93 L221.39,71.37 L222.54,71.83 L223.69,72.30 L224.85,72.78 L226.00,73.28 L227.15,73.79 L228.31,74.32 L229.46,74.87 L230.61,75.44 L231.77,76.02 L232.92,76.63 L234.07,77.25 L235.23,77.90 L236.38,78.57 L237.54,79.26 L238.69,79.98 L239.84,80.73 L241.00,81.50 L242.15,82.31 L243.30,83.14 L244.46,84.01 L245.61,84.91 L246.76,85.84 L247.92,86.82 L249.07,87.83 L250.22,88.88 L251.38,89.98 L252.53,91.12 L253.69,92.31 L254.84,93.55 L255.99,94.84 L257.15,96.18 L258.30,97.58 L259.45,99.05 L260.61,100.57 L261.76,102.16 L262.91,103.82 L264.07,105.56 L265.22,107.37 L266.37,109.26 L267.53,111.24 L268.68,113.30 L269.84,115.46 L270.99,117.71 L272.14,120.07 L273.30,122.53 L274.45,125.11 L275.60,127.80 L276.76,130.62 L277.91,133.57 L279.06,136.65 L280.22,139.88 L281.37,143.26 L282.52,146.79 L283.68,150.49 L284.83,154.37 L285.99,158.42 L287.14,162.66 L288.29,167.11 L289.45,171.77 L290.60,176.64 L291.75,181.75 L292.91,187.10 L294.06,192.70 L295.21,198.57 L296.37,204.72 L297.52,211.16 L298.67,217.91 L299.83,224.99 L300.98,232.40 L302.14,240.17 L303.29,248.32 L304.44,256.85 L305.60,265.80 L306.75,275.18 L307.90,285.00 L309.06,295.31 L310.21,306.11 L311.36,317.44 L312.52,329.31 L313.67,341.76 L314.82,354.81 L315.98,368.49 L317.13,382.84 L318.29,397.89 L319.44,413.66 L320.59,414.02 L321.75,414.02 L322.90,414.02 L324.05,414.02 L325.21,414.02 L326.36,414.02 L327.51,414.02 L328.67,414.02 L329.82,414.02 L330.97,414.02 L332.13,414.02 L333.28,414.02 L334.44,414.02 L335.59,414.02 L336.74,414.02 L337.90,414.02 L339.05,414.02 L340.20,414.02 L341.36,414.02 L342.51,414.02 L343.66,414.02 L344.82,414.02 L345.97,414.02 L347.12,414.02 L348.28,414.02 L349.43,414.02 L350.59,414.02 L351.74,414.02 L352.89,414.02 L354.05,414.02 L355.20,414.02 L356.35,414.02 L357.51,414.02 L358.66,414.02 L359.81,414.02 L360.97,414.02 L362.12,414.02 L363.27,414.02 L364.43,414.02 L365.58,414.02 L366.74,414.02 L367.89,414.02 L369.04,414.02 L370.20,414.02 L371.35,414.02 L372.50,414.02 L373.66,414.02 L374.81,414.02 L375.96,414.02 L377.12,414.02 L378.27,414.02 L379.42,414.02 L380.58,414.02 L381.73,414.02 L382.89,414.02 L384.04,414.02 L385.19,414.02 L386.35,414.02 L387.50,414.02" fill="none" stroke="#2000f0" stroke-width="1.6" stroke-dasharray="5.5,5.85" stroke-dashoffset="-6.9"/>
<g clip-path="url(#hreg)"><line x1="200.00" y1="37.30" x2="360.00" y2="-122.70" stroke="#000" stroke-width="1.25"/>
<line x1="200.00" y1="43.20" x2="360.00" y2="-116.80" stroke="#000" stroke-width="1.25"/>
<line x1="200.00" y1="49.10" x2="360.00" y2="-110.90" stroke="#000" stroke-width="1.25"/>
<line x1="200.00" y1="55.00" x2="360.00" y2="-105.00" stroke="#000" stroke-width="1.25"/>
<line x1="200.00" y1="60.90" x2="360.00" y2="-99.10" stroke="#000" stroke-width="1.25"/>
<line x1="200.00" y1="66.80" x2="360.00" y2="-93.20" stroke="#000" stroke-width="1.25"/>
<line x1="200.00" y1="72.70" x2="360.00" y2="-87.30" stroke="#000" stroke-width="1.25"/>
<line x1="200.00" y1="78.60" x2="360.00" y2="-81.40" stroke="#000" stroke-width="1.25"/>
<line x1="200.00" y1="84.50" x2="360.00" y2="-75.50" stroke="#000" stroke-width="1.25"/>
<line x1="200.00" y1="90.40" x2="360.00" y2="-69.60" stroke="#000" stroke-width="1.25"/>
<line x1="200.00" y1="96.30" x2="360.00" y2="-63.70" stroke="#000" stroke-width="1.25"/>
<line x1="200.00" y1="102.20" x2="360.00" y2="-57.80" stroke="#000" stroke-width="1.25"/>
<line x1="200.00" y1="108.10" x2="360.00" y2="-51.90" stroke="#000" stroke-width="1.25"/>
<line x1="200.00" y1="114.00" x2="360.00" y2="-46.00" stroke="#000" stroke-width="1.25"/>
<line x1="200.00" y1="119.90" x2="360.00" y2="-40.10" stroke="#000" stroke-width="1.25"/>
<line x1="200.00" y1="125.80" x2="360.00" y2="-34.20" stroke="#000" stroke-width="1.25"/>
<line x1="200.00" y1="131.70" x2="360.00" y2="-28.30" stroke="#000" stroke-width="1.25"/>
<line x1="200.00" y1="137.60" x2="360.00" y2="-22.40" stroke="#000" stroke-width="1.25"/>
<line x1="200.00" y1="143.50" x2="360.00" y2="-16.50" stroke="#000" stroke-width="1.25"/>
<line x1="200.00" y1="149.40" x2="360.00" y2="-10.60" stroke="#000" stroke-width="1.25"/>
<line x1="200.00" y1="155.30" x2="360.00" y2="-4.70" stroke="#000" stroke-width="1.25"/>
<line x1="200.00" y1="161.20" x2="360.00" y2="1.20" stroke="#000" stroke-width="1.25"/>
<line x1="200.00" y1="167.10" x2="360.00" y2="7.10" stroke="#000" stroke-width="1.25"/>
<line x1="200.00" y1="173.00" x2="360.00" y2="13.00" stroke="#000" stroke-width="1.25"/>
<line x1="200.00" y1="178.90" x2="360.00" y2="18.90" stroke="#000" stroke-width="1.25"/>
<line x1="200.00" y1="184.80" x2="360.00" y2="24.80" stroke="#000" stroke-width="1.25"/>
<line x1="200.00" y1="190.70" x2="360.00" y2="30.70" stroke="#000" stroke-width="1.25"/>
<line x1="200.00" y1="196.60" x2="360.00" y2="36.60" stroke="#000" stroke-width="1.25"/>
<line x1="200.00" y1="202.50" x2="360.00" y2="42.50" stroke="#000" stroke-width="1.25"/>
<line x1="200.00" y1="208.40" x2="360.00" y2="48.40" stroke="#000" stroke-width="1.25"/>
<line x1="200.00" y1="214.30" x2="360.00" y2="54.30" stroke="#000" stroke-width="1.25"/>
<line x1="200.00" y1="220.20" x2="360.00" y2="60.20" stroke="#000" stroke-width="1.25"/>
<line x1="200.00" y1="226.10" x2="360.00" y2="66.10" stroke="#000" stroke-width="1.25"/>
<line x1="200.00" y1="232.00" x2="360.00" y2="72.00" stroke="#000" stroke-width="1.25"/>
<line x1="200.00" y1="237.90" x2="360.00" y2="77.90" stroke="#000" stroke-width="1.25"/>
<line x1="200.00" y1="243.80" x2="360.00" y2="83.80" stroke="#000" stroke-width="1.25"/>
<line x1="200.00" y1="249.70" x2="360.00" y2="89.70" stroke="#000" stroke-width="1.25"/>
<line x1="200.00" y1="255.60" x2="360.00" y2="95.60" stroke="#000" stroke-width="1.25"/>
<line x1="200.00" y1="261.50" x2="360.00" y2="101.50" stroke="#000" stroke-width="1.25"/>
<line x1="200.00" y1="267.40" x2="360.00" y2="107.40" stroke="#000" stroke-width="1.25"/>
<line x1="200.00" y1="273.30" x2="360.00" y2="113.30" stroke="#000" stroke-width="1.25"/>
<line x1="200.00" y1="279.20" x2="360.00" y2="119.20" stroke="#000" stroke-width="1.25"/>
<line x1="200.00" y1="285.10" x2="360.00" y2="125.10" stroke="#000" stroke-width="1.25"/>
<line x1="200.00" y1="291.00" x2="360.00" y2="131.00" stroke="#000" stroke-width="1.25"/>
<line x1="200.00" y1="296.90" x2="360.00" y2="136.90" stroke="#000" stroke-width="1.25"/>
<line x1="200.00" y1="302.80" x2="360.00" y2="142.80" stroke="#000" stroke-width="1.25"/>
<line x1="200.00" y1="308.70" x2="360.00" y2="148.70" stroke="#000" stroke-width="1.25"/>
<line x1="200.00" y1="314.60" x2="360.00" y2="154.60" stroke="#000" stroke-width="1.25"/>
<line x1="200.00" y1="320.50" x2="360.00" y2="160.50" stroke="#000" stroke-width="1.25"/>
<line x1="200.00" y1="326.40" x2="360.00" y2="166.40" stroke="#000" stroke-width="1.25"/>
<line x1="200.00" y1="332.30" x2="360.00" y2="172.30" stroke="#000" stroke-width="1.25"/>
<line x1="200.00" y1="338.20" x2="360.00" y2="178.20" stroke="#000" stroke-width="1.25"/>
<line x1="200.00" y1="344.10" x2="360.00" y2="184.10" stroke="#000" stroke-width="1.25"/>
<line x1="200.00" y1="350.00" x2="360.00" y2="190.00" stroke="#000" stroke-width="1.25"/>
<line x1="200.00" y1="355.90" x2="360.00" y2="195.90" stroke="#000" stroke-width="1.25"/>
<line x1="200.00" y1="361.80" x2="360.00" y2="201.80" stroke="#000" stroke-width="1.25"/>
<line x1="200.00" y1="367.70" x2="360.00" y2="207.70" stroke="#000" stroke-width="1.25"/>
<line x1="200.00" y1="373.60" x2="360.00" y2="213.60" stroke="#000" stroke-width="1.25"/>
<line x1="200.00" y1="379.50" x2="360.00" y2="219.50" stroke="#000" stroke-width="1.25"/>
<line x1="200.00" y1="385.40" x2="360.00" y2="225.40" stroke="#000" stroke-width="1.25"/>
<line x1="200.00" y1="391.30" x2="360.00" y2="231.30" stroke="#000" stroke-width="1.25"/>
<line x1="200.00" y1="397.20" x2="360.00" y2="237.20" stroke="#000" stroke-width="1.25"/>
<line x1="200.00" y1="403.10" x2="360.00" y2="243.10" stroke="#000" stroke-width="1.25"/>
<line x1="200.00" y1="409.00" x2="360.00" y2="249.00" stroke="#000" stroke-width="1.25"/>
<line x1="200.00" y1="414.90" x2="360.00" y2="254.90" stroke="#000" stroke-width="1.25"/>
<line x1="200.00" y1="420.80" x2="360.00" y2="260.80" stroke="#000" stroke-width="1.25"/>
<line x1="200.00" y1="426.70" x2="360.00" y2="266.70" stroke="#000" stroke-width="1.25"/>
<line x1="200.00" y1="432.60" x2="360.00" y2="272.60" stroke="#000" stroke-width="1.25"/>
<line x1="200.00" y1="438.50" x2="360.00" y2="278.50" stroke="#000" stroke-width="1.25"/>
<line x1="200.00" y1="444.40" x2="360.00" y2="284.40" stroke="#000" stroke-width="1.25"/></g>
<path d="M88.72,42.79 L89.88,43.03 L91.03,43.27 L92.18,43.51 L93.34,43.75 L94.49,43.99 L95.65,44.22 L96.80,44.46 L97.95,44.69 L99.11,44.92 L100.26,45.16 L101.41,45.39 L102.57,45.62 L103.72,45.84 L104.87,46.07 L106.03,46.30 L107.18,46.52 L108.33,46.75 L109.49,46.97 L110.64,47.19 L111.80,47.41 L112.95,47.63 L114.10,47.85 L115.26,48.07 L116.41,48.29 L117.56,48.51 L118.72,48.72 L119.87,48.94 L121.02,49.15 L122.18,49.37 L123.33,49.58 L124.48,49.79 L125.64,50.00 L126.79,50.21 L127.95,50.42 L129.10,50.63 L130.25,50.84 L131.41,51.05 L132.56,51.26 L133.71,51.46 L134.87,51.67 L136.02,51.87 L137.17,52.08 L138.33,52.28 L139.48,52.49 L140.63,52.69 L141.79,52.90 L142.94,53.10 L144.10,53.30 L145.25,53.50 L146.40,53.70 L147.56,53.90 L148.71,54.10 L149.86,54.30 L151.02,54.50 L152.17,54.70 L153.32,54.90 L154.48,55.10 L155.63,55.30 L156.78,55.50 L157.94,55.70 L159.09,55.90 L160.25,56.09 L161.40,56.29 L162.55,56.49 L163.71,56.69 L164.86,56.89 L166.01,57.08 L167.17,57.28 L168.32,57.48 L169.47,57.68 L170.63,57.87 L171.78,58.07 L172.94,58.27 L174.09,58.47 L175.24,58.66 L176.40,58.86 L177.55,59.06 L178.70,59.26 L179.86,59.46 L181.01,59.66 L182.16,59.86 L183.32,60.06 L184.47,60.26 L185.62,60.46 L186.78,60.66 L187.93,60.86 L189.09,61.07 L190.24,61.27 L191.39,61.48 L192.55,61.68 L193.70,61.89 L194.85,62.09 L196.01,62.30 L197.16,62.51 L198.31,62.72 L199.47,62.93 L200.62,63.14 L201.77,63.36 L202.93,63.57 L204.08,63.79 L205.24,64.01 L206.39,64.23 L207.54,64.45 L208.70,64.67 L209.85,64.90 L211.00,65.13 L212.16,65.36 L213.31,65.59 L214.46,65.82 L215.62,66.06 L216.77,66.30 L217.92,66.54 L219.08,66.78 L220.23,67.03 L221.39,67.28 L222.54,67.54 L223.69,67.80 L224.85,68.06 L226.00,68.33 L227.15,68.60 L228.31,68.87 L229.46,69.15 L230.61,69.44 L231.77,69.73 L232.92,70.02 L234.07,70.32 L235.23,70.63 L236.38,70.94 L237.54,71.26 L238.69,71.59 L239.84,71.92 L241.00,72.26 L242.15,72.61 L243.30,72.97 L244.46,73.33 L245.61,73.71 L246.76,74.09 L247.92,74.49 L249.07,74.89 L250.22,75.31 L251.38,75.74 L252.53,76.18 L253.69,76.64 L254.84,77.10 L255.99,77.58 L257.15,78.08 L258.30,78.59 L259.45,79.12 L260.61,79.67 L261.76,80.23 L262.91,80.82 L264.07,81.42 L265.22,82.05 L266.37,82.69 L267.53,83.36 L268.68,84.06 L269.84,84.78 L270.99,85.52 L272.14,86.30 L273.30,87.10 L274.45,87.93 L275.60,88.80 L276.76,89.70 L277.91,90.64 L279.06,91.61 L280.22,92.62 L281.37,93.68 L282.52,94.77 L283.68,95.92 L284.83,97.11 L285.99,98.35 L287.14,99.64 L288.29,100.98 L289.45,102.39 L290.60,103.85 L291.75,105.38 L292.91,106.98 L294.06,108.64 L295.21,110.38 L296.37,112.19 L297.52,114.09 L298.67,116.07 L299.83,118.14 L300.98,120.30 L302.14,122.56 L303.29,124.92 L304.44,127.39 L305.60,129.97 L306.75,132.67 L307.90,135.49 L309.06,138.45 L310.21,141.54 L311.36,144.77 L312.52,148.16 L313.67,151.70 L314.82,155.41 L315.98,159.29 L317.13,163.36 L318.29,167.61 L319.44,172.07 L320.59,176.73 L321.75,181.62 L322.90,186.74 L324.05,192.10 L325.21,197.72 L326.36,203.60 L327.51,209.77 L328.67,216.23 L329.82,223.00 L330.97,230.09 L332.13,237.52 L333.28,245.31 L334.44,253.48 L335.59,262.04 L336.74,271.00 L337.90,280.41 L339.05,290.26 L340.20,300.59 L341.36,311.42 L342.51,322.78 L343.66,334.68 L344.82,347.16 L345.97,360.25 L347.12,373.97 L348.28,388.35 L349.43,403.44 L350.59,414.02 L351.74,414.02 L352.89,414.02 L354.05,414.02 L355.20,414.02 L356.35,414.02 L357.51,414.02 L358.66,414.02 L359.81,414.02 L360.97,414.02 L362.12,414.02 L363.27,414.02 L364.43,414.02 L365.58,414.02 L366.74,414.02 L367.89,414.02 L369.04,414.02 L370.20,414.02 L371.35,414.02 L372.50,414.02 L373.66,414.02 L374.81,414.02 L375.96,414.02 L377.12,414.02 L378.27,414.02 L379.42,414.02 L380.58,414.02 L381.73,414.02 L382.89,414.02 L384.04,414.02 L385.19,414.02 L386.35,414.02 L387.50,414.02" fill="none" stroke="#000" stroke-width="1.7"/>
<path d="M88.72,42.79 L89.06,42.86 L89.39,42.93 L89.72,43.00 L90.05,43.07 L90.39,43.14 L90.72,43.21 L91.05,43.28 L91.38,43.35 L91.72,43.42 L92.05,43.49 L92.38,43.55 L92.71,43.62 L93.04,43.69 L93.38,43.76 L93.71,43.83 L94.04,43.90 L94.37,43.97 L94.71,44.04 L95.04,44.10 L95.37,44.17 L95.70,44.24 L96.04,44.31 L96.37,44.38 L96.70,44.44 L97.03,44.51 L97.36,44.58 L97.70,44.65 L98.03,44.71 L98.36,44.78 L98.69,44.85 L99.03,44.91 L99.36,44.98 L99.69,45.05 L100.02,45.11 L100.36,45.18 L100.69,45.25 L101.02,45.31 L101.35,45.38 L101.69,45.45 L102.02,45.51 L102.35,45.58 L102.68,45.65 L103.01,45.71 L103.35,45.78 L103.68,45.84 L104.01,45.91 L104.34,45.97 L104.68,46.04 L105.01,46.11 L105.34,46.17 L105.67,46.24 L106.01,46.30 L106.34,46.37 L106.67,46.43 L107.00,46.50 L107.34,46.56 L107.67,46.63 L108.00,46.69 L108.33,46.75 L108.66,46.82 L109.00,46.88 L109.33,46.95 L109.66,47.01 L109.99,47.08 L110.33,47.14 L110.66,47.20 L110.99,47.27 L111.32,47.33 L111.66,47.40 L111.99,47.46 L112.32,47.52 L112.65,47.59 L112.99,47.65 L113.32,47.71 L113.65,47.78 L113.98,47.84 L114.31,47.90 L114.65,47.97 L114.98,48.03 L115.31,48.09 L115.64,48.16 L115.98,48.22 L116.31,48.28 L116.64,48.34 L116.97,48.41 L117.31,48.47 L117.64,48.53 L117.97,48.59 L118.30,48.66 L118.63,48.72 L118.97,48.78 L119.30,48.84 L119.63,48.91 L119.96,48.97 L120.30,49.03 L120.63,49.09 L120.96,49.15 L121.29,49.22 L121.63,49.28 L121.96,49.34 L122.29,49.40 L122.62,49.46 L122.96,49.52 L123.29,49.59 L123.62,49.65 L123.95,49.71 L124.28,49.77 L124.62,49.83 L124.95,49.89 L125.28,49.95 L125.61,50.01 L125.95,50.07 L126.28,50.14 L126.61,50.20 L126.94,50.26 L127.28,50.32 L127.61,50.38 L127.94,50.44 L128.27,50.50 L128.61,50.56 L128.94,50.62 L129.27,50.68 L129.60,50.74 L129.93,50.80 L130.27,50.86 L130.60,50.92 L130.93,50.98 L131.26,51.04 L131.60,51.10 L131.93,51.16 L132.26,51.22 L132.59,51.28 L132.93,51.34 L133.26,51.40 L133.59,51.46 L133.92,51.52 L134.25,51.58 L134.59,51.64 L134.92,51.70 L135.25,51.76 L135.58,51.82 L135.92,51.88 L136.25,51.94 L136.58,52.00 L136.91,52.06 L137.25,52.12 L137.58,52.18 L137.91,52.24 L138.24,52.30 L138.58,52.36 L138.91,52.41 L139.24,52.47 L139.57,52.53 L139.90,52.59 L140.24,52.65 L140.57,52.71 L140.90,52.77 L141.23,52.83 L141.57,52.89 L141.90,52.95 L142.23,53.00 L142.56,53.06 L142.90,53.12 L143.23,53.18 L143.56,53.24 L143.89,53.30 L144.23,53.36 L144.56,53.42 L144.89,53.47 L145.22,53.53 L145.55,53.59 L145.89,53.65 L146.22,53.71 L146.55,53.77 L146.88,53.82 L147.22,53.88 L147.55,53.94 L147.88,54.00 L148.21,54.06 L148.55,54.12 L148.88,54.17 L149.21,54.23 L149.54,54.29 L149.88,54.35 L150.21,54.41 L150.54,54.47 L150.87,54.52 L151.20,54.58 L151.54,54.64 L151.87,54.70 L152.20,54.76 L152.53,54.81 L152.87,54.87 L153.20,54.93 L153.53,54.99 L153.86,55.05 L154.20,55.11 L154.53,55.16 L154.86,55.22 L155.19,55.28 L155.52,55.34 L155.86,55.40 L156.19,55.45 L156.52,55.51 L156.85,55.57 L157.19,55.63 L157.52,55.69 L157.85,55.74 L158.18,55.80 L158.52,55.86 L158.85,55.92 L159.18,55.97 L159.51,56.03 L159.85,56.09 L160.18,56.15 L160.51,56.21 L160.84,56.26 L161.17,56.32 L161.51,56.38 L161.84,56.44 L162.17,56.50 L162.50,56.55 L162.84,56.61 L163.17,56.67 L163.50,56.73 L163.83,56.79 L164.17,56.84 L164.50,56.90 L164.83,56.96 L165.16,57.02 L165.50,57.08 L165.83,57.13 L166.16,57.19 L166.49,57.25 L166.82,57.31 L167.16,57.37 L167.49,57.42 L167.82,57.48 L168.15,57.54 L168.49,57.60 L168.82,57.66 L169.15,57.72 L169.48,57.77 L169.82,57.83 L170.15,57.89 L170.48,57.95 L170.81,58.01 L171.14,58.07 L171.48,58.12 L171.81,58.18 L172.14,58.24 L172.47,58.30 L172.81,58.36 L173.14,58.42 L173.47,58.48 L173.80,58.53 L174.14,58.59 L174.47,58.65 L174.80,58.71 L175.13,58.77 L175.47,58.83 L175.80,58.89 L176.13,58.95 L176.46,59.00 L176.79,59.06 L177.13,59.12 L177.46,59.18 L177.79,59.24 L178.12,59.30 L178.46,59.36 L178.79,59.42 L179.12,59.48 L179.45,59.54 L179.79,59.60 L180.12,59.66 L180.45,59.72 L180.78,59.78 L181.12,59.83 L181.45,59.89 L181.78,59.95 L182.11,60.01 L182.44,60.07 L182.78,60.13 L183.11,60.19 L183.44,60.25 L183.77,60.31 L184.11,60.37 L184.44,60.44 L184.77,60.50 L185.10,60.56 L185.44,60.62 L185.77,60.68 L186.10,60.74 L186.43,60.80 L186.77,60.86 L187.10,60.92 L187.43,60.98 L187.76,61.04 L188.09,61.10 L188.43,61.17 L188.76,61.23 L189.09,61.29 L189.42,61.35 L189.76,61.41 L190.09,61.47 L190.42,61.54 L190.75,61.60 L191.09,61.66 L191.42,61.72 L191.75,61.79 L192.08,61.85 L192.41,61.91 L192.75,61.97 L193.08,62.04 L193.41,62.10 L193.74,62.16 L194.08,62.23 L194.41,62.29 L194.74,62.35 L195.07,62.42 L195.41,62.48 L195.74,62.54 L196.07,62.61 L196.40,62.67 L196.74,62.74 L197.07,62.80 L197.40,62.87 L197.73,62.93 L198.06,63.00 L198.40,63.06 L198.73,63.13 L199.06,63.19 L199.39,63.26 L199.73,63.32 L200.06,63.39 L200.39,63.46 L200.72,63.52 L201.06,63.59 L201.39,63.65 L201.72,63.72 L202.05,63.79 L202.39,63.86 L202.72,63.92 L203.05,63.99 L203.38,64.06 L203.71,64.13 L204.05,64.19 L204.38,64.26 L204.71,64.33 L205.04,64.40 L205.38,64.47 L205.71,64.54 L206.04,64.61 L206.37,64.68 L206.71,64.75 L207.04,64.82 L207.37,64.89 L207.70,64.96 L208.04,65.03 L208.37,65.10 L208.70,65.17 L209.03,65.24 L209.36,65.32 L209.70,65.39 L210.03,65.46 L210.36,65.53 L210.69,65.61 L211.03,65.68 L211.36,65.75 L211.69,65.83 L212.02,65.90 L212.36,65.98 L212.69,66.05 L213.02,66.13 L213.35,66.20 L213.68,66.28 L214.02,66.35 L214.35,66.43 L214.68,66.51 L215.01,66.58 L215.35,66.66 L215.68,66.74 L216.01,66.82 L216.34,66.90 L216.68,66.97 L217.01,67.05 L217.34,67.13 L217.67,67.21 L218.01,67.29 L218.34,67.37 L218.67,67.46 L219.00,67.54 L219.33,67.62 L219.67,67.70 L220.00,67.78 L220.33,67.87 L220.66,67.95 L221.00,68.03 L221.33,68.12 L221.66,68.20 L221.99,68.29 L222.33,68.37 L222.66,68.46 L222.99,68.55 L223.32,68.64 L223.66,68.72 L223.99,68.81 L224.32,68.90 L224.65,68.99 L224.98,69.08 L225.32,69.17 L225.65,69.26 L225.98,69.35 L226.31,69.44 L226.65,69.54 L226.98,69.63 L227.31,69.72 L227.64,69.82 L227.98,69.91 L228.31,70.01 L228.64,70.10 L228.97,70.20 L229.30,70.30 L229.64,70.40 L229.97,70.49 L230.30,70.59 L230.63,70.69 L230.97,70.79 L231.30,70.89 L231.63,71.00 L231.96,71.10 L232.30,71.20 L232.63,71.31 L232.96,71.41 L233.29,71.52 L233.63,71.62 L233.96,71.73 L234.29,71.84 L234.62,71.95 L234.95,72.06 L235.29,72.17 L235.62,72.28 L235.95,72.39 L236.28,72.50 L236.62,72.62 L236.95,72.73 L237.28,72.85 L237.61,72.96 L237.95,73.08 L238.28,73.20 L238.61,73.32 L238.94,73.44 L239.28,73.56 L239.61,73.68 L239.94,73.80 L240.27,73.93 L240.60,74.05 L240.94,74.18 L241.27,74.30 L241.60,74.43 L241.93,74.56 L242.27,74.69 L242.60,74.82 L242.93,74.96 L243.26,75.09 L243.60,75.22 L243.93,75.36 L244.26,75.50 L244.59,75.64 L244.93,75.78 L245.26,75.92 L245.59,76.06 L245.92,76.20 L246.25,76.35 L246.59,76.49 L246.92,76.64 L247.25,76.79 L247.58,76.94 L247.92,77.09 L248.25,77.24 L248.58,77.40 L248.91,77.55 L249.25,77.71 L249.58,77.87 L249.91,78.03 L250.24,78.19 L250.57,78.36 L250.91,78.52 L251.24,78.69 L251.57,78.86 L251.90,79.03 L252.24,79.20 L252.57,79.37 L252.90,79.55 L253.23,79.72 L253.57,79.90 L253.90,80.08 L254.23,80.27 L254.56,80.45 L254.90,80.64 L255.23,80.83 L255.56,81.02 L255.89,81.21 L256.22,81.40 L256.56,81.60 L256.89,81.80 L257.22,82.00 L257.55,82.20 L257.89,82.40 L258.22,82.61 L258.55,82.82 L258.88,83.03 L259.22,83.24 L259.55,83.46 L259.88,83.68 L260.21,83.90 L260.55,84.12 L260.88,84.35 L261.21,84.58 L261.54,84.81 L261.87,85.04 L262.21,85.28 L262.54,85.52 L262.87,85.76 L263.20,86.00 L263.54,86.25 L263.87,86.50 L264.20,86.75 L264.53,87.01 L264.87,87.27 L265.20,87.53 L265.53,87.79 L265.86,88.06 L266.19,88.33 L266.53,88.60 L266.86,88.88 L267.19,89.16 L267.52,89.45 L267.86,89.73 L268.19,90.03 L268.52,90.32 L268.85,90.62 L269.19,90.92 L269.52,91.22 L269.85,91.53 L270.18,91.85 L270.52,92.16 L270.85,92.49 L271.18,92.81 L271.51,93.14 L271.84,93.48 L272.18,93.81 L272.51,94.16 L272.84,94.50 L273.17,94.85 L273.51,95.21 L273.84,95.57 L274.17,95.93 L274.50,96.30 L274.84,96.68 L275.17,97.06 L275.50,97.44 L275.83,97.83 L276.17,98.23 L276.50,98.63 L276.83,99.03 L277.16,99.44 L277.49,99.86 L277.83,100.28 L278.16,100.71 L278.49,101.15 L278.82,101.60 L279.16,102.05 L279.49,102.51 L279.82,102.97 L280.15,103.44 L280.49,103.92 L280.82,104.40 L281.15,104.89 L281.48,105.39 L281.82,105.90 L282.15,106.41 L282.48,106.93 L282.81,107.46 L283.14,108.00 L283.48,108.54 L283.81,109.09 L284.14,109.65 L284.47,110.22 L284.81,110.80 L285.14,111.38 L285.47,111.98 L285.80,112.58 L286.14,113.19 L286.47,113.82 L286.80,114.45 L287.13,115.09 L287.46,115.74 L287.80,116.40 L288.13,117.08 L288.46,117.76 L288.79,118.45 L289.13,119.16 L289.46,119.87 L289.79,120.60 L290.12,121.34 L290.46,122.09 L290.79,122.86 L291.12,123.64 L291.45,124.43 L291.79,125.23 L292.12,126.05 L292.45,126.88 L292.78,127.72 L293.11,128.58 L293.45,129.45 L293.78,130.34 L294.11,131.25 L294.44,132.17 L294.78,133.11 L295.11,134.06 L295.44,135.03 L295.77,136.02 L296.11,137.03 L296.44,138.06 L296.77,139.10 L297.10,140.17 L297.44,141.25 L297.77,142.36 L298.10,143.49 L298.43,144.64 L298.76,145.81 L299.10,147.01 L299.43,148.23 L299.76,149.48 L300.09,150.73 L300.43,152.00 L300.76,153.29 L301.09,154.61 L301.42,155.96 L301.76,157.34 L302.09,158.75 L302.42,160.20 L302.75,161.67 L303.08,163.19 L303.42,164.74 L303.75,166.32 L304.08,167.95 L304.41,169.63 L304.75,171.34 L305.08,173.11 L305.41,174.92 L305.74,176.79 L306.08,178.72 L306.41,180.70 L306.74,182.76 L307.07,184.88 L307.41,187.07 L307.74,189.35 L308.07,191.72 L308.40,194.19 L308.73,196.76 L309.07,199.46 L309.40,202.29 L309.73,205.26 L310.06,208.41 L310.40,211.76 L310.73,215.34 L311.06,219.19 L311.39,223.37 L311.73,227.96 L312.06,233.09 L312.39,238.92 L312.72,245.70 L313.06,253.87 L313.39,264.32 L313.72,279.25 L314.05,307.52 L314.38,326.23 L314.72,288.66 L315.05,273.94 L315.38,265.01 L315.71,258.80 L316.05,254.18 L316.38,250.61 L316.71,247.80 L317.04,245.55 L317.38,243.74 L317.71,242.29 L318.04,241.14 L318.37,240.24 L318.71,239.56 L319.04,239.08 L319.37,238.76 L319.70,238.59 L320.03,238.57 L320.37,238.67 L320.70,238.89 L321.03,239.15 L321.36,239.39 L321.70,239.72 L322.03,240.13 L322.36,240.63 L322.69,241.19 L323.03,241.83 L323.36,242.54 L323.69,243.32 L324.02,244.16 L324.35,245.06 L324.69,246.03 L325.02,247.05 L325.35,248.13 L325.68,249.27 L326.02,250.46 L326.35,251.71 L326.68,253.01 L327.01,254.36 L327.35,255.77 L327.68,257.23 L328.01,258.74 L328.34,260.31 L328.68,261.92 L329.01,263.59 L329.34,265.30 L329.67,267.07 L330.00,268.89 L330.34,270.76 L330.67,272.68 L331.00,274.65 L331.33,276.67 L331.67,278.74 L332.00,280.87 L332.33,282.96 L332.66,285.10 L333.00,287.28 L333.33,289.52 L333.66,291.80 L333.99,294.14 L334.33,296.52 L334.66,298.96 L334.99,301.44 L335.32,303.98 L335.65,306.57 L335.99,309.20 L336.32,311.90 L336.65,314.64 L336.98,317.43 L337.32,320.28 L337.65,323.19 L337.98,326.14 L338.31,329.16 L338.65,332.22 L338.98,335.35 L339.31,338.53 L339.64,341.77 L339.98,345.06 L340.31,348.42 L340.64,351.83 L340.97,355.30 L341.30,358.83 L341.64,362.43 L341.97,366.08 L342.30,369.80 L342.63,373.58 L342.97,377.43 L343.30,381.34 L343.63,385.31 L343.96,389.36 L344.30,393.47 L344.63,397.64 L344.96,401.89 L345.29,406.20 L345.62,410.59 L345.96,414.02 L346.29,414.02 L346.62,414.02 L346.95,414.02 L347.29,414.02 L347.62,414.02 L347.95,414.02 L348.28,414.02 L348.62,414.02 L348.95,414.02 L349.28,414.02 L349.61,414.02 L349.95,414.02 L350.28,414.02 L350.61,414.02 L350.94,414.02 L351.27,414.02 L351.61,414.02 L351.94,414.02 L352.27,414.02 L352.60,414.02 L352.94,414.02 L353.27,414.02 L353.60,414.02 L353.93,414.02 L354.27,414.02 L354.60,414.02 L354.93,414.02 L355.26,414.02 L355.60,414.02 L355.93,414.02 L356.26,414.02 L356.59,414.02 L356.92,414.02 L357.26,414.02 L357.59,414.02 L357.92,414.02 L358.25,414.02 L358.59,414.02 L358.92,414.02 L359.25,414.02 L359.58,414.02 L359.92,414.02 L360.25,414.02 L360.58,414.02 L360.91,414.02 L361.24,414.02 L361.58,414.02 L361.91,414.02 L362.24,414.02 L362.57,414.02 L362.91,414.02 L363.24,414.02 L363.57,414.02 L363.90,414.02 L364.24,414.02 L364.57,414.02 L364.90,414.02 L365.23,414.02 L365.57,414.02 L365.90,414.02 L366.23,414.02 L366.56,414.02 L366.89,414.02 L367.23,414.02 L367.56,414.02 L367.89,414.02 L368.22,414.02 L368.56,414.02 L368.89,414.02 L369.22,414.02 L369.55,414.02 L369.89,414.02 L370.22,414.02 L370.55,414.02 L370.88,414.02 L371.22,414.02 L371.55,414.02 L371.88,414.02 L372.21,414.02 L372.54,414.02 L372.88,414.02 L373.21,414.02 L373.54,414.02 L373.87,414.02 L374.21,414.02 L374.54,414.02 L374.87,414.02 L375.20,414.02 L375.54,414.02 L375.87,414.02 L376.20,414.02 L376.53,414.02 L376.87,414.02 L377.20,414.02 L377.53,414.02 L377.86,414.02 L378.19,414.02 L378.53,414.02 L378.86,414.02 L379.19,414.02 L379.52,414.02 L379.86,414.02 L380.19,414.02 L380.52,414.02 L380.85,414.02 L381.19,414.02 L381.52,414.02 L381.85,414.02 L382.18,414.02 L382.51,414.02 L382.85,414.02 L383.18,414.02 L383.51,414.02 L383.84,414.02 L384.18,414.02 L384.51,414.02 L384.84,414.02 L385.17,414.02 L385.51,414.02 L385.84,414.02 L386.17,414.02 L386.50,414.02 L386.84,414.02 L387.17,414.02 L387.50,414.02" fill="none" stroke="#000" stroke-width="1.7" stroke-linejoin="round"/>
<path d="M88.72,42.78 L89.88,43.02 L91.03,43.26 L92.18,43.50 L93.34,43.74 L94.49,43.98 L95.65,44.21 L96.80,44.45 L97.95,44.68 L99.11,44.92 L100.26,45.15 L101.41,45.38 L102.57,45.61 L103.72,45.83 L104.87,46.06 L106.03,46.29 L107.18,46.51 L108.33,46.73 L109.49,46.96 L110.64,47.18 L111.80,47.40 L112.95,47.62 L114.10,47.84 L115.26,48.05 L116.41,48.27 L117.56,48.49 L118.72,48.70 L119.87,48.92 L121.02,49.13 L122.18,49.34 L123.33,49.55 L124.48,49.76 L125.64,49.97 L126.79,50.18 L127.95,50.39 L129.10,50.60 L130.25,50.81 L131.41,51.01 L132.56,51.22 L133.71,51.42 L134.87,51.63 L136.02,51.83 L137.17,52.03 L138.33,52.24 L139.48,52.44 L140.63,52.64 L141.79,52.84 L142.94,53.04 L144.10,53.24 L145.25,53.44 L146.40,53.63 L147.56,53.83 L148.71,54.03 L149.86,54.23 L151.02,54.42 L152.17,54.62 L153.32,54.81 L154.48,55.01 L155.63,55.20 L156.78,55.39 L157.94,55.59 L159.09,55.78 L160.25,55.97 L161.40,56.16 L162.55,56.36 L163.71,56.55 L164.86,56.74 L166.01,56.93 L167.17,57.12 L168.32,57.31 L169.47,57.50 L170.63,57.69 L171.78,57.87 L172.94,58.06 L174.09,58.25 L175.24,58.44 L176.40,58.62 L177.55,58.81 L178.70,59.00 L179.86,59.18 L181.01,59.37 L182.16,59.56 L183.32,59.74 L184.47,59.93 L185.62,60.11 L186.78,60.30 L187.93,60.48 L189.09,60.66 L190.24,60.85 L191.39,61.03 L192.55,61.22 L193.70,61.40 L194.85,61.58 L196.01,61.76 L197.16,61.95 L198.31,62.13 L199.47,62.31 L200.62,62.49 L201.77,62.67 L202.93,62.86 L204.08,63.04 L205.24,63.22 L206.39,63.40 L207.54,63.58 L208.70,63.76 L209.85,63.94 L211.00,64.12 L212.16,64.30 L213.31,64.48 L214.46,64.66 L215.62,64.84 L216.77,65.02 L217.92,65.20 L219.08,65.38 L220.23,65.56 L221.39,65.74 L222.54,65.92 L223.69,66.10 L224.85,66.27 L226.00,66.45 L227.15,66.63 L228.31,66.81 L229.46,66.99 L230.61,67.17 L231.77,67.34 L232.92,67.52 L234.07,67.70 L235.23,67.88 L236.38,68.05 L237.54,68.23 L238.69,68.41 L239.84,68.59 L241.00,68.76 L242.15,68.94 L243.30,69.12 L244.46,69.29 L245.61,69.47 L246.76,69.65 L247.92,69.83 L249.07,70.00 L250.22,70.18 L251.38,70.35 L252.53,70.53 L253.69,70.71 L254.84,70.88 L255.99,71.06 L257.15,71.24 L258.30,71.41 L259.45,71.59 L260.61,71.76 L261.76,71.94 L262.91,72.12 L264.07,72.29 L265.22,72.47 L266.37,72.64 L267.53,72.82 L268.68,72.99 L269.84,73.17 L270.99,73.35 L272.14,73.52 L273.30,73.70 L274.45,73.87 L275.60,74.05 L276.76,74.22 L277.91,74.40 L279.06,74.57 L280.22,74.75 L281.37,74.92 L282.52,75.10 L283.68,75.27 L284.83,75.45 L285.99,75.62 L287.14,75.80 L288.29,75.97 L289.45,76.15 L290.60,76.32 L291.75,76.50 L292.91,76.67 L294.06,76.85 L295.21,77.02 L296.37,77.20 L297.52,77.37 L298.67,77.55 L299.83,77.72 L300.98,77.90 L302.14,78.07 L303.29,78.24 L304.44,78.42 L305.60,78.59 L306.75,78.77 L307.90,78.94 L309.06,79.12 L310.21,79.29 L311.36,79.47 L312.52,79.64 L313.67,79.81 L314.82,79.99 L315.98,80.16 L317.13,80.34 L318.29,80.51 L319.44,80.69 L320.59,80.86 L321.75,81.03 L322.90,81.21 L324.05,81.38 L325.21,81.56 L326.36,81.73 L327.51,81.91 L328.67,82.08 L329.82,82.25 L330.97,82.43 L332.13,82.60 L333.28,82.78 L334.44,82.95 L335.59,83.12 L336.74,83.30 L337.90,83.47 L339.05,83.65 L340.20,83.82 L341.36,83.99 L342.51,84.17 L343.66,84.34 L344.82,84.52 L345.97,84.69 L347.12,84.86 L348.28,85.04 L349.43,85.21 L350.59,85.39 L351.74,85.56 L352.89,85.73 L354.05,85.91 L355.20,86.08 L356.35,86.26 L357.51,86.43 L358.66,86.60 L359.81,86.78 L360.97,86.95 L362.12,87.12 L363.27,87.30 L364.43,87.47 L365.58,87.65 L366.74,87.82 L367.89,87.99 L369.04,88.17 L370.20,88.34 L371.35,88.51 L372.50,88.69 L373.66,88.86 L374.81,89.04 L375.96,89.21 L377.12,89.38 L378.27,89.56 L379.42,89.73 L380.58,89.90 L381.73,90.08 L382.89,90.25 L384.04,90.43 L385.19,90.60 L386.35,90.77 L387.50,90.95" fill="none" stroke="#000" stroke-width="1.5"/>
</g>
<rect x="55.40" y="14.35" width="332.10" height="266.45" fill="none" stroke="#000" stroke-width="1.2"/>
<line x1="71.00" y1="170.40" x2="108.30" y2="170.40" stroke="#000" stroke-width="0.80"/>
<line x1="71" y1="194" x2="108.3" y2="194" stroke="#2000f0" stroke-width="1.5" stroke-dasharray="5.6,5.5"/>
<line x1="71.00" y1="217.40" x2="108.30" y2="217.40" stroke="#2000f0" stroke-width="1.30"/>
<rect x="71" y="230.1" width="37.2" height="15.6" fill="#ff9500"/>
<g clip-path="url(#lbox)"><line x1="60.00" y1="247.90" x2="120.00" y2="187.90" stroke="#000" stroke-width="1.10"/>
<line x1="60.00" y1="253.80" x2="120.00" y2="193.80" stroke="#000" stroke-width="1.10"/>
<line x1="60.00" y1="259.70" x2="120.00" y2="199.70" stroke="#000" stroke-width="1.10"/>
<line x1="60.00" y1="265.60" x2="120.00" y2="205.60" stroke="#000" stroke-width="1.10"/>
<line x1="60.00" y1="271.50" x2="120.00" y2="211.50" stroke="#000" stroke-width="1.10"/>
<line x1="60.00" y1="277.40" x2="120.00" y2="217.40" stroke="#000" stroke-width="1.10"/>
<line x1="60.00" y1="283.30" x2="120.00" y2="223.30" stroke="#000" stroke-width="1.10"/>
<line x1="60.00" y1="289.20" x2="120.00" y2="229.20" stroke="#000" stroke-width="1.10"/>
<line x1="60.00" y1="295.10" x2="120.00" y2="235.10" stroke="#000" stroke-width="1.10"/>
<line x1="60.00" y1="301.00" x2="120.00" y2="241.00" stroke="#000" stroke-width="1.10"/>
<line x1="60.00" y1="306.90" x2="120.00" y2="246.90" stroke="#000" stroke-width="1.10"/>
<line x1="60.00" y1="312.80" x2="120.00" y2="252.80" stroke="#000" stroke-width="1.10"/>
<line x1="60.00" y1="318.70" x2="120.00" y2="258.70" stroke="#000" stroke-width="1.10"/>
<line x1="60.00" y1="324.60" x2="120.00" y2="264.60" stroke="#000" stroke-width="1.10"/></g>
<g fill="#000" stroke="#000" stroke-width="0.12"><text transform="translate(121.95,171.00) scale(1.005,1)" font-family="Liberation Sans" font-style="normal" font-size="11.3" stroke-width="0.3">power spectrum</text>
<text transform="translate(205.80,171.20) scale(1.000,1)" font-family="Liberation Serif" font-style="normal" font-size="11.5">(</text>
<text transform="translate(208.48,171.20) scale(1.110,1)" font-family="Liberation Serif" font-style="italic" font-size="12" stroke-width="0.3">&#945;</text>
<text transform="translate(215.63,174.70) scale(1.072,1)" font-family="Liberation Serif" font-style="normal" font-size="8">M</text>
<text transform="translate(223.02,171.20) scale(1.255,1)" font-family="Liberation Serif" font-style="normal" font-size="12" stroke-width="0.55">=</text>
<text transform="translate(231.25,171.20) scale(1.200,1)" font-family="Liberation Serif" font-style="normal" font-size="12" stroke-width="0.55">&#8722;</text>
<text transform="translate(239.91,171.20) scale(0.976,1)" font-family="Liberation Serif" font-style="normal" font-size="11.7">2.5</text>
<text transform="translate(254.82,171.20) scale(1.000,1)" font-family="Liberation Serif" font-style="normal" font-size="11.5">)</text>
<text transform="translate(122.33,194.20) scale(0.991,1)" font-family="Liberation Sans" font-style="normal" font-size="11.3" stroke-width="0.3">smoothed at</text>
<text transform="translate(186.61,194.30) scale(1.036,1)" font-family="Liberation Serif" font-style="italic" font-size="12" stroke-width="0.3">&#969;</text>
<text transform="translate(195.05,197.80) scale(1.000,1)" font-family="Liberation Serif" font-style="normal" font-size="8">1</text>
<text transform="translate(199.19,194.30) scale(1.291,1)" font-family="Liberation Serif" font-style="normal" font-size="12" stroke-width="0.55">=</text>
<text transform="translate(208.20,194.30) scale(1.005,1)" font-family="Liberation Serif" font-style="normal" font-size="11.7">80</text>
<line x1="221.20" y1="186.60" x2="220.65" y2="190.40" stroke="#000" stroke-width="0.9"/>
<text transform="translate(122.33,217.60) scale(0.991,1)" font-family="Liberation Sans" font-style="normal" font-size="11.3" stroke-width="0.3">smoothed at</text>
<text transform="translate(186.61,217.60) scale(1.036,1)" font-family="Liberation Serif" font-style="italic" font-size="12" stroke-width="0.3">&#969;</text>
<text transform="translate(195.19,221.10) scale(1.088,1)" font-family="Liberation Serif" font-style="normal" font-size="8">2</text>
<text transform="translate(199.19,217.60) scale(1.291,1)" font-family="Liberation Serif" font-style="normal" font-size="12" stroke-width="0.55">=</text>
<text transform="translate(208.50,217.60) scale(0.998,1)" font-family="Liberation Serif" font-style="normal" font-size="11.7">160</text>
<line x1="227.10" y1="209.90" x2="226.55" y2="213.70" stroke="#000" stroke-width="0.9"/>
<text transform="translate(120.24,240.60) scale(1.254,1)" font-family="Liberation Serif" font-style="italic" font-size="12" stroke-width="0.3">f</text>
<text transform="translate(126.92,235.10) scale(1.000,1)" font-family="Liberation Serif" font-style="normal" font-size="7.5">2</text>
<text transform="translate(125.07,244.10) scale(0.941,1)" font-family="Liberation Serif" font-style="italic" font-size="8" stroke-width="0.3">p</text>
<text transform="translate(132.00,240.60) scale(1.000,1)" font-family="Liberation Serif" font-style="normal" font-size="11.5">(</text>
<text transform="translate(134.91,240.60) scale(1.036,1)" font-family="Liberation Serif" font-style="italic" font-size="12" stroke-width="0.3">&#969;</text>
<text transform="translate(143.65,244.10) scale(1.000,1)" font-family="Liberation Serif" font-style="normal" font-size="8">1</text>
<text transform="translate(147.99,240.60) scale(1.291,1)" font-family="Liberation Serif" font-style="normal" font-size="12" stroke-width="0.55">=</text>
<text transform="translate(156.72,240.60) scale(0.967,1)" font-family="Liberation Serif" font-style="normal" font-size="11.7">80</text>
<line x1="169.00" y1="232.90" x2="168.45" y2="236.70" stroke="#000" stroke-width="0.9"/>
<text transform="translate(169.50,240.60) scale(1.000,1)" font-family="Liberation Serif" font-style="normal" font-size="12">,</text>
<text transform="translate(176.03,240.60) scale(0.997,1)" font-family="Liberation Serif" font-style="italic" font-size="12" stroke-width="0.3">&#969;</text>
<text transform="translate(183.88,244.10) scale(1.120,1)" font-family="Liberation Serif" font-style="normal" font-size="8">2</text>
<text transform="translate(188.38,240.60) scale(1.309,1)" font-family="Liberation Serif" font-style="normal" font-size="12" stroke-width="0.55">=</text>
<text transform="translate(196.68,240.60) scale(1.017,1)" font-family="Liberation Serif" font-style="normal" font-size="11.7">160</text>
<line x1="215.50" y1="232.90" x2="214.95" y2="236.70" stroke="#000" stroke-width="0.9"/>
<text transform="translate(216.03,240.60) scale(1.000,1)" font-family="Liberation Serif" font-style="normal" font-size="11.5">)</text>
<text transform="translate(120.24,263.60) scale(1.254,1)" font-family="Liberation Serif" font-style="italic" font-size="12" stroke-width="0.3">f</text>
<text transform="translate(127.03,258.10) scale(1.000,1)" font-family="Liberation Serif" font-style="normal" font-size="7.5">2</text>
<text transform="translate(125.96,267.10) scale(0.956,1)" font-family="Liberation Serif" font-style="italic" font-size="8" stroke-width="0.3">m</text>
<text transform="translate(131.40,263.60) scale(1.000,1)" font-family="Liberation Serif" font-style="normal" font-size="11.5">(</text>
<text transform="translate(134.02,263.60) scale(1.023,1)" font-family="Liberation Serif" font-style="italic" font-size="12" stroke-width="0.3">&#969;</text>
<text transform="translate(142.78,263.60) scale(1.309,1)" font-family="Liberation Serif" font-style="normal" font-size="12" stroke-width="0.55">=</text>
<text transform="translate(151.91,263.60) scale(0.986,1)" font-family="Liberation Serif" font-style="normal" font-size="11.7">80</text>
<line x1="164.40" y1="255.90" x2="163.85" y2="259.70" stroke="#000" stroke-width="0.9"/>
<text transform="translate(165.53,263.60) scale(1.000,1)" font-family="Liberation Serif" font-style="normal" font-size="11.5">)</text>
<text transform="translate(173.30,263.60) scale(1.000,1)" font-family="Liberation Serif" font-style="normal" font-size="11.5">(</text>
<text transform="translate(176.34,263.60) scale(0.967,1)" font-family="Liberation Serif" font-style="italic" font-size="12" stroke-width="0.3">&#948;</text>
<text transform="translate(182.18,263.60) scale(1.309,1)" font-family="Liberation Serif" font-style="normal" font-size="12" stroke-width="0.55">=</text>
<text transform="translate(191.03,263.60) scale(0.997,1)" font-family="Liberation Serif" font-style="italic" font-size="12" stroke-width="0.3">&#969;</text>
<text transform="translate(199.20,263.60) scale(0.862,1)" font-family="Liberation Serif" font-style="normal" font-size="11.7">/</text>
<text transform="translate(201.89,263.60) scale(1.011,1)" font-family="Liberation Serif" font-style="normal" font-size="11.7">2</text>
<text transform="translate(207.48,263.60) scale(1.309,1)" font-family="Liberation Serif" font-style="normal" font-size="12" stroke-width="0.55">=</text>
<text transform="translate(216.47,263.60) scale(0.936,1)" font-family="Liberation Serif" font-style="normal" font-size="11.7">40</text>
<line x1="228.50" y1="255.90" x2="227.95" y2="259.70" stroke="#000" stroke-width="0.9"/>
<text transform="translate(229.53,263.60) scale(1.000,1)" font-family="Liberation Serif" font-style="normal" font-size="11.5">)</text></g>
<g transform="translate(12.6,190.7) rotate(-90)" font-family="Liberation Serif" font-style="italic" fill="#000" stroke="#000" stroke-width="0.3"><text transform="translate(-0.52,0.00) scale(1.000,1)" font-size="14">l</text><text transform="translate(3.41,0.00) scale(1.000,1)" font-size="14">(</text><text transform="translate(7.98,0.00) scale(1.000,1)" font-size="14">l</text><text transform="translate(13.03,0.90) scale(0.920,1)" font-size="16">+</text><text transform="translate(22.97,0.00) scale(1.060,1)" font-size="14">1</text><text transform="translate(29.15,0.00) scale(0.920,1)" font-size="14">/</text><text transform="translate(34.20,0.00) scale(0.920,1)" font-size="14">2</text><text transform="translate(40.49,0.00) scale(1.000,1)" font-size="14">)</text><text transform="translate(48.23,0.00) scale(0.920,1)" font-size="14">C</text><text transform="translate(57.96,4.00) scale(1.000,1)" font-size="9.5">l</text><text transform="translate(63.35,0.00) scale(1.036,1)" font-size="14">/</text><text transform="translate(70.25,0.00) scale(0.920,1)" font-size="14">2</text><text transform="translate(76.53,0.00) scale(1.100,1)" font-size="14">&#960;</text></g>
</svg>
<div class="t yl" style="left:9.5px;top:14.5px;">1</div>
<div class="t yl" style="left:9.5px;top:76.8px;">0.01</div>
<div class="t yl" style="left:10.5px;top:143.2px;">10<span class="sup">-4</span></div>
<div class="t yl" style="left:10.5px;top:209.7px;">10<span class="sup">-6</span></div>
<div class="t yl" style="left:10.5px;top:270.5px;">10<span class="sup">-8</span></div>
<div class="t xl" style="left:35.4px;top:292.5px;">1</div>
<div class="t xl" style="left:146px;top:292.5px;">10</div>
<div class="t xl" style="left:257px;top:292.5px;">100</div>
<div class="t xl" style="left:368px;top:292.5px;">1000</div>
<div class="t m" style="left:219.6px;top:311px;font-size:14px;line-height:14px;">l</div>
<div class="w" style="left:42px;top:24px;width:4px;height:3px"></div>
<div class="w" style="left:48px;top:24px;width:3px;height:3px"></div>
<div class="w" style="left:42px;top:86px;width:4px;height:3px"></div>
<div class="w" style="left:48px;top:86px;width:3px;height:3px"></div>
<div class="w" style="left:29px;top:152px;width:4px;height:3px"></div>
<div class="w" style="left:35px;top:152px;width:3px;height:3px"></div>
<div class="w" style="left:29px;top:219px;width:4px;height:3px"></div>
<div class="w" style="left:35px;top:219px;width:3px;height:3px"></div>
<div class="w" style="left:29px;top:280px;width:4px;height:3px"></div>
<div class="w" style="left:35px;top:280px;width:3px;height:3px"></div>
<div class="w" style="left:51px;top:302px;width:4px;height:3px"></div>
<div class="w" style="left:57px;top:302px;width:3px;height:3px"></div>
<div class="w" style="left:159px;top:302px;width:3px;height:3px"></div>
<div class="w" style="left:164px;top:302px;width:3px;height:3px"></div>
<div class="w" style="left:266px;top:302px;width:3px;height:3px"></div>
<div class="w" style="left:271px;top:302px;width:4px;height:3px"></div>
<div class="w" style="left:374px;top:302px;width:3px;height:3px"></div>
<div class="w" style="left:379px;top:302px;width:3px;height:3px"></div>
</div></body></html>
